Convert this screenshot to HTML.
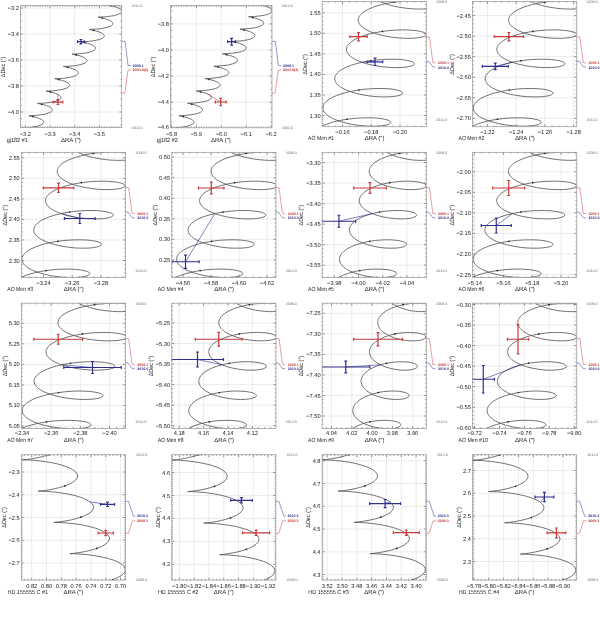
<!DOCTYPE html><html><head><meta charset="utf-8"><style>html,body{margin:0;padding:0;background:#fff;}svg{display:block;will-change:transform;text-rendering:geometricPrecision;}</style></head><body><svg width="600" height="620" viewBox="0 0 600 620" font-family='"Liberation Sans", sans-serif' fill="#222">
<rect width="600" height="620" fill="#fff"/>
<clipPath id="c1"><rect x="20.50" y="5.50" width="101.20" height="122.10"/></clipPath>
<path d="M99.40 5.50V127.60M74.70 5.50V127.60M50.00 5.50V127.60M25.30 5.50V127.60M20.50 112.00H121.70M20.50 86.00H121.70M20.50 60.00H121.70M20.50 34.00H121.70M20.50 8.00H121.70" stroke="#e6e6e6" stroke-width="0.75" fill="none"/>
<path d="M121.63 127.60v-1.20M121.63 5.50v1.20M119.16 127.60v-1.20M119.16 5.50v1.20M116.69 127.60v-1.20M116.69 5.50v1.20M114.22 127.60v-1.20M114.22 5.50v1.20M111.75 127.60v-1.20M111.75 5.50v1.20M109.28 127.60v-1.20M109.28 5.50v1.20M106.81 127.60v-1.20M106.81 5.50v1.20M104.34 127.60v-1.20M104.34 5.50v1.20M101.87 127.60v-1.20M101.87 5.50v1.20M99.40 127.60v-2.40M99.40 5.50v2.40M96.93 127.60v-1.20M96.93 5.50v1.20M94.46 127.60v-1.20M94.46 5.50v1.20M91.99 127.60v-1.20M91.99 5.50v1.20M89.52 127.60v-1.20M89.52 5.50v1.20M87.05 127.60v-1.20M87.05 5.50v1.20M84.58 127.60v-1.20M84.58 5.50v1.20M82.11 127.60v-1.20M82.11 5.50v1.20M79.64 127.60v-1.20M79.64 5.50v1.20M77.17 127.60v-1.20M77.17 5.50v1.20M74.70 127.60v-2.40M74.70 5.50v2.40M72.23 127.60v-1.20M72.23 5.50v1.20M69.76 127.60v-1.20M69.76 5.50v1.20M67.29 127.60v-1.20M67.29 5.50v1.20M64.82 127.60v-1.20M64.82 5.50v1.20M62.35 127.60v-1.20M62.35 5.50v1.20M59.88 127.60v-1.20M59.88 5.50v1.20M57.41 127.60v-1.20M57.41 5.50v1.20M54.94 127.60v-1.20M54.94 5.50v1.20M52.47 127.60v-1.20M52.47 5.50v1.20M50.00 127.60v-2.40M50.00 5.50v2.40M47.53 127.60v-1.20M47.53 5.50v1.20M45.06 127.60v-1.20M45.06 5.50v1.20M42.59 127.60v-1.20M42.59 5.50v1.20M40.12 127.60v-1.20M40.12 5.50v1.20M37.65 127.60v-1.20M37.65 5.50v1.20M35.18 127.60v-1.20M35.18 5.50v1.20M32.71 127.60v-1.20M32.71 5.50v1.20M30.24 127.60v-1.20M30.24 5.50v1.20M27.77 127.60v-1.20M27.77 5.50v1.20M25.30 127.60v-2.40M25.30 5.50v2.40M22.83 127.60v-1.20M22.83 5.50v1.20M20.50 125.00h1.20M121.70 125.00h-1.20M20.50 118.50h1.20M121.70 118.50h-1.20M20.50 112.00h2.40M121.70 112.00h-2.40M20.50 105.50h1.20M121.70 105.50h-1.20M20.50 99.00h1.20M121.70 99.00h-1.20M20.50 92.50h1.20M121.70 92.50h-1.20M20.50 86.00h2.40M121.70 86.00h-2.40M20.50 79.50h1.20M121.70 79.50h-1.20M20.50 73.00h1.20M121.70 73.00h-1.20M20.50 66.50h1.20M121.70 66.50h-1.20M20.50 60.00h2.40M121.70 60.00h-2.40M20.50 53.50h1.20M121.70 53.50h-1.20M20.50 47.00h1.20M121.70 47.00h-1.20M20.50 40.50h1.20M121.70 40.50h-1.20M20.50 34.00h2.40M121.70 34.00h-2.40M20.50 27.50h1.20M121.70 27.50h-1.20M20.50 21.00h1.20M121.70 21.00h-1.20M20.50 14.50h1.20M121.70 14.50h-1.20M20.50 8.00h2.40M121.70 8.00h-2.40" stroke="#555" stroke-width="0.65" fill="none"/>
<g clip-path="url(#c1)">
<path d="M30.0 130.5L25.9 129.3L20.2 128.0L25.6 127.8L29.9 127.5L33.9 126.9L37.4 126.2L40.2 125.3L42.2 124.3L43.0 123.7L43.4 123.2L43.7 122.7L43.8 122.1L43.5 121.2L42.7 120.4L41.4 119.5L39.7 118.6L37.5 117.8L35.1 117.1L28.9 115.7L34.1 115.5L37.9 115.2L41.8 114.7L45.2 114.1L48.1 113.2L50.3 112.3L51.2 111.8L51.7 111.3L52.1 110.8L52.4 110.3L52.4 109.9L52.3 109.3L51.7 108.4L50.5 107.4L48.8 106.5L46.7 105.6L44.0 104.8L41.5 104.2L37.5 103.4L42.6 103.2L46.4 102.9L50.1 102.4L53.4 101.8L56.2 101.1L58.5 100.2L59.5 99.7L60.1 99.2L60.6 98.7L60.9 98.2L61.0 97.8L61.0 97.2L60.9 96.8L60.5 96.3L59.4 95.3L57.7 94.3L55.6 93.4L53.0 92.6L50.3 91.9L46.2 91.1L51.3 90.9L55.1 90.6L58.8 90.1L62.1 89.5L64.9 88.7L67.2 87.9L68.7 86.9L69.2 86.4L69.5 85.9L69.7 85.5L69.7 85.0L69.5 84.5L69.2 84.0L68.1 83.0L66.4 82.0L64.2 81.1L61.6 80.3L58.9 79.6L54.8 78.7L59.8 78.5L63.6 78.3L67.3 77.8L70.6 77.2L73.4 76.5L75.7 75.6L77.3 74.7L77.8 74.2L78.2 73.7L78.3 73.2L78.3 72.7L78.2 72.3L77.9 71.8L76.8 70.7L75.2 69.8L73.0 68.8L70.4 68.0L67.6 67.3L63.4 66.4L68.5 66.2L72.0 66.0L75.7 65.5L79.1 64.9L81.9 64.2L84.3 63.3L85.9 62.4L86.4 61.9L86.8 61.4L86.9 61.0L87.0 60.5L86.8 59.9L86.5 59.4L85.4 58.4L83.8 57.4L81.6 56.5L79.0 55.6L76.2 54.9L72.1 54.1L77.2 53.9L80.8 53.6L84.4 53.2L87.8 52.6L90.6 51.9L92.8 51.0L94.4 50.1L95.0 49.7L95.4 49.2L95.6 48.7L95.6 48.2L95.5 47.7L95.2 47.1L94.2 46.1L92.6 45.1L90.4 44.2L87.7 43.3L84.8 42.6L80.7 41.8L85.9 41.6L89.5 41.3L93.1 40.8L96.5 40.2L99.3 39.5L101.5 38.7L103.1 37.8L103.6 37.3L104.0 36.8L104.2 36.4L104.3 35.9L104.2 35.3L103.9 34.8L102.8 33.8L101.2 32.8L99.0 31.9L96.3 31.0L93.6 30.3L89.4 29.5L94.4 29.2L97.9 29.0L101.6 28.5L105.0 27.9L107.8 27.2L110.0 26.4L111.7 25.5L112.2 25.0L112.6 24.5L112.8 24.1L112.9 23.6L112.8 23.1L112.5 22.5L111.5 21.5L109.9 20.5L107.7 19.6L105.1 18.7L102.2 18.0L98.0 17.1L103.1 16.9L106.7 16.7L110.3 16.2L113.7 15.6L116.5 14.9L118.7 14.1L120.3 13.2L120.9 12.7L121.3 12.2L121.5 11.8L121.6 11.2L121.5 10.7L121.2 10.2L120.1 9.2L118.5 8.2L116.3 7.2L113.7 6.4L110.9 5.7L106.7 4.8L111.8 4.6L115.6 4.3L119.5 3.8L122.9 3.2" stroke="#585858" stroke-width="0.85" fill="none"/>
<circle cx="24.40" cy="128.90" r="0.85" fill="#222"/>
<circle cx="33.04" cy="116.58" r="0.85" fill="#222"/>
<circle cx="41.69" cy="104.25" r="0.85" fill="#222"/>
<circle cx="50.33" cy="91.93" r="0.85" fill="#222"/>
<circle cx="58.98" cy="79.60" r="0.85" fill="#222"/>
<circle cx="67.62" cy="67.28" r="0.85" fill="#222"/>
<circle cx="76.26" cy="54.96" r="0.85" fill="#222"/>
<circle cx="84.91" cy="42.63" r="0.85" fill="#222"/>
<circle cx="93.55" cy="30.31" r="0.85" fill="#222"/>
<circle cx="102.20" cy="17.98" r="0.85" fill="#222"/>
<circle cx="110.84" cy="5.66" r="0.85" fill="#222"/>
<path d="M57.75 94.32L57.90 102.10" stroke="#c83838" stroke-width="0.6" fill="none"/>
<path d="M53.00 102.10H62.80M57.90 99.70V104.50M53.00 100.70v2.80M62.80 100.70v2.80M56.50 99.70h2.80M56.50 104.50h2.80" stroke="#c83838" stroke-width="1.20" fill="none"/>
<path d="M77.50 41.70H84.30M80.90 39.50V43.90M77.50 40.30v2.80M84.30 40.30v2.80M79.50 39.50h2.80M79.50 43.90h2.80" stroke="#2e2e8e" stroke-width="1.20" fill="none"/>
</g>
<rect x="20.50" y="5.50" width="101.20" height="122.10" stroke="#a0a0a0" stroke-width="0.80" fill="none"/>
<text x="99.40" y="135.75" font-size="5.70" text-anchor="middle"><tspan font-weight="bold">−</tspan>3.5</text>
<text x="74.70" y="135.75" font-size="5.70" text-anchor="middle"><tspan font-weight="bold">−</tspan>3.4</text>
<text x="50.00" y="135.75" font-size="5.70" text-anchor="middle"><tspan font-weight="bold">−</tspan>3.3</text>
<text x="25.30" y="135.75" font-size="5.70" text-anchor="middle"><tspan font-weight="bold">−</tspan>3.2</text>
<text x="18.90" y="114.05" font-size="5.70" text-anchor="end"><tspan font-weight="bold">−</tspan>4.0</text>
<text x="18.90" y="88.05" font-size="5.70" text-anchor="end"><tspan font-weight="bold">−</tspan>3.8</text>
<text x="18.90" y="62.05" font-size="5.70" text-anchor="end"><tspan font-weight="bold">−</tspan>3.6</text>
<text x="18.90" y="36.05" font-size="5.70" text-anchor="end"><tspan font-weight="bold">−</tspan>3.4</text>
<text x="18.90" y="10.05" font-size="5.70" text-anchor="end"><tspan font-weight="bold">−</tspan>3.2</text>
<text x="70.90" y="141.50" font-size="6.0" text-anchor="middle">ΔRA (″)</text>
<text x="5.00" y="67.00" font-size="6.0" text-anchor="middle" textLength="20.5" lengthAdjust="spacingAndGlyphs" transform="rotate(-90 5.00 67.00)">ΔDec (″)</text>
<text x="6.75" y="141.50" font-size="6.0" textLength="21.0" lengthAdjust="spacingAndGlyphs">gj182 #1</text>
<text x="131.50" y="6.80" font-size="3.60" fill="#6a6a6a">2012.0</text>
<text x="131.50" y="129.20" font-size="3.60" fill="#6a6a6a">2002.0</text>
<text x="132.70" y="66.90" font-size="3.60" fill="#2e2e8e" font-weight="bold">2009.1</text>
<text x="132.70" y="71.40" font-size="3.60" fill="#c83838" font-weight="bold">2004.8(2)</text>
<path d="M121.70 41.30L125.10 41.40L128.00 65.40L131.10 65.60" stroke="#6262b4" stroke-width="0.65" fill="none"/>
<path d="M121.70 93.20L124.80 93.20L128.00 70.20L131.10 70.00" stroke="#dc6a6a" stroke-width="0.65" fill="none"/>
<clipPath id="c2"><rect x="170.50" y="5.50" width="101.50" height="122.30"/></clipPath>
<path d="M271.10 5.50V127.80M246.20 5.50V127.80M221.30 5.50V127.80M196.40 5.50V127.80M171.50 5.50V127.80M170.50 102.20H272.00M170.50 76.10H272.00M170.50 50.00H272.00M170.50 23.90H272.00" stroke="#e6e6e6" stroke-width="0.75" fill="none"/>
<path d="M271.10 127.80v-2.40M271.10 5.50v2.40M268.61 127.80v-1.20M268.61 5.50v1.20M266.12 127.80v-1.20M266.12 5.50v1.20M263.63 127.80v-1.20M263.63 5.50v1.20M261.14 127.80v-1.20M261.14 5.50v1.20M258.65 127.80v-1.20M258.65 5.50v1.20M256.16 127.80v-1.20M256.16 5.50v1.20M253.67 127.80v-1.20M253.67 5.50v1.20M251.18 127.80v-1.20M251.18 5.50v1.20M248.69 127.80v-1.20M248.69 5.50v1.20M246.20 127.80v-2.40M246.20 5.50v2.40M243.71 127.80v-1.20M243.71 5.50v1.20M241.22 127.80v-1.20M241.22 5.50v1.20M238.73 127.80v-1.20M238.73 5.50v1.20M236.24 127.80v-1.20M236.24 5.50v1.20M233.75 127.80v-1.20M233.75 5.50v1.20M231.26 127.80v-1.20M231.26 5.50v1.20M228.77 127.80v-1.20M228.77 5.50v1.20M226.28 127.80v-1.20M226.28 5.50v1.20M223.79 127.80v-1.20M223.79 5.50v1.20M221.30 127.80v-2.40M221.30 5.50v2.40M218.81 127.80v-1.20M218.81 5.50v1.20M216.32 127.80v-1.20M216.32 5.50v1.20M213.83 127.80v-1.20M213.83 5.50v1.20M211.34 127.80v-1.20M211.34 5.50v1.20M208.85 127.80v-1.20M208.85 5.50v1.20M206.36 127.80v-1.20M206.36 5.50v1.20M203.87 127.80v-1.20M203.87 5.50v1.20M201.38 127.80v-1.20M201.38 5.50v1.20M198.89 127.80v-1.20M198.89 5.50v1.20M196.40 127.80v-2.40M196.40 5.50v2.40M193.91 127.80v-1.20M193.91 5.50v1.20M191.42 127.80v-1.20M191.42 5.50v1.20M188.93 127.80v-1.20M188.93 5.50v1.20M186.44 127.80v-1.20M186.44 5.50v1.20M183.95 127.80v-1.20M183.95 5.50v1.20M181.46 127.80v-1.20M181.46 5.50v1.20M178.97 127.80v-1.20M178.97 5.50v1.20M176.48 127.80v-1.20M176.48 5.50v1.20M173.99 127.80v-1.20M173.99 5.50v1.20M171.50 127.80v-2.40M171.50 5.50v2.40M170.50 121.77h1.20M272.00 121.77h-1.20M170.50 115.25h1.20M272.00 115.25h-1.20M170.50 108.72h1.20M272.00 108.72h-1.20M170.50 102.20h2.40M272.00 102.20h-2.40M170.50 95.68h1.20M272.00 95.68h-1.20M170.50 89.15h1.20M272.00 89.15h-1.20M170.50 82.62h1.20M272.00 82.62h-1.20M170.50 76.10h2.40M272.00 76.10h-2.40M170.50 69.58h1.20M272.00 69.58h-1.20M170.50 63.05h1.20M272.00 63.05h-1.20M170.50 56.52h1.20M272.00 56.52h-1.20M170.50 50.00h2.40M272.00 50.00h-2.40M170.50 43.48h1.20M272.00 43.48h-1.20M170.50 36.95h1.20M272.00 36.95h-1.20M170.50 30.43h1.20M272.00 30.43h-1.20M170.50 23.90h2.40M272.00 23.90h-2.40M170.50 17.38h1.20M272.00 17.38h-1.20M170.50 10.85h1.20M272.00 10.85h-1.20" stroke="#555" stroke-width="0.65" fill="none"/>
<g clip-path="url(#c2)">
<path d="M180.6 130.7L178.6 130.0L176.3 129.4L170.2 128.0L175.6 127.8L180.0 127.4L183.9 126.9L187.5 126.2L190.3 125.3L192.4 124.3L193.1 123.7L193.6 123.1L193.9 122.6L193.9 122.0L193.6 121.1L192.7 120.3L191.4 119.3L189.6 118.5L187.6 117.8L185.1 117.0L178.9 115.7L184.2 115.5L188.0 115.1L192.0 114.6L195.4 114.0L198.3 113.2L200.5 112.3L201.4 111.7L201.9 111.2L202.4 110.7L202.6 110.2L202.6 109.8L202.5 109.3L201.9 108.3L200.7 107.4L199.0 106.4L196.8 105.6L194.2 104.7L191.6 104.1L187.6 103.3L192.7 103.1L196.6 102.8L200.3 102.3L203.7 101.7L206.5 101.0L208.8 100.1L209.8 99.6L210.4 99.1L210.9 98.6L211.2 98.1L211.3 97.6L211.3 97.1L211.2 96.7L210.8 96.2L209.7 95.1L208.0 94.2L205.9 93.3L203.2 92.5L200.5 91.8L196.3 90.9L201.5 90.7L205.4 90.4L209.1 90.0L212.4 89.3L215.3 88.6L217.6 87.7L219.1 86.8L219.6 86.3L219.9 85.8L220.0 85.3L220.0 84.8L219.9 84.4L219.6 83.8L218.5 82.8L216.8 81.8L214.5 80.9L211.9 80.1L209.1 79.4L205.0 78.6L210.1 78.4L213.9 78.1L217.6 77.6L221.0 77.0L223.8 76.3L226.2 75.4L227.7 74.5L228.2 74.0L228.6 73.5L228.7 73.0L228.8 72.5L228.6 72.1L228.3 71.5L227.3 70.5L225.6 69.5L223.4 68.6L220.7 67.7L218.0 67.0L213.8 66.2L218.8 66.0L222.4 65.7L226.1 65.3L229.5 64.7L232.4 63.9L234.8 63.1L236.3 62.2L236.9 61.7L237.3 61.2L237.4 60.7L237.5 60.2L237.4 59.7L237.0 59.1L235.9 58.1L234.3 57.1L232.1 56.2L229.4 55.4L226.6 54.7L222.5 53.8L227.6 53.6L231.2 53.3L234.9 52.9L238.3 52.3L241.2 51.6L243.4 50.8L245.0 49.8L245.6 49.4L245.9 48.8L246.1 48.4L246.2 47.9L246.1 47.4L245.8 46.8L244.7 45.8L243.1 44.8L240.9 43.9L238.3 43.0L235.3 42.3L231.2 41.4L236.4 41.2L240.0 41.0L243.7 40.5L247.1 39.9L249.9 39.2L252.1 38.4L253.7 37.4L254.3 37.0L254.7 36.4L254.9 36.0L254.9 35.5L254.8 35.0L254.5 34.4L253.4 33.4L251.8 32.4L249.6 31.5L246.9 30.6L244.1 29.9L239.9 29.1L244.9 28.9L248.5 28.6L252.2 28.2L255.6 27.6L258.5 26.8L260.7 26.0L262.4 25.1L262.9 24.6L263.4 24.1L263.6 23.7L263.6 23.2L263.5 22.7L263.3 22.1L262.2 21.1L260.6 20.1L258.4 19.2L255.8 18.3L252.8 17.6L248.6 16.7L253.7 16.5L257.3 16.2L261.0 15.8L264.4 15.2L267.3 14.5L269.5 13.6L271.1 12.7L271.7 12.3L272.1 11.7L272.3 11.3L272.3 10.8L272.2 10.3L272.0 9.7L270.9 8.7L269.3 7.7L267.1 6.8L264.4 5.9L261.6 5.2L257.3 4.3L262.5 4.1L266.3 3.8L270.3 3.3L273.7 2.7" stroke="#585858" stroke-width="0.85" fill="none"/>
<circle cx="174.40" cy="128.90" r="0.85" fill="#222"/>
<circle cx="183.11" cy="116.53" r="0.85" fill="#222"/>
<circle cx="191.83" cy="104.16" r="0.85" fill="#222"/>
<circle cx="200.54" cy="91.79" r="0.85" fill="#222"/>
<circle cx="209.26" cy="79.41" r="0.85" fill="#222"/>
<circle cx="217.97" cy="67.04" r="0.85" fill="#222"/>
<circle cx="226.68" cy="54.67" r="0.85" fill="#222"/>
<circle cx="235.40" cy="42.30" r="0.85" fill="#222"/>
<circle cx="244.11" cy="29.93" r="0.85" fill="#222"/>
<circle cx="252.83" cy="17.56" r="0.85" fill="#222"/>
<circle cx="261.54" cy="5.19" r="0.85" fill="#222"/>
<path d="M208.02 94.19L220.75 102.00" stroke="#c83838" stroke-width="0.6" fill="none"/>
<path d="M215.35 102.00H226.15M220.75 98.25V105.75M215.35 100.60v2.80M226.15 100.60v2.80M219.35 98.25h2.80M219.35 105.75h2.80" stroke="#c83838" stroke-width="1.20" fill="none"/>
<path d="M227.60 41.70H235.60M231.60 38.30V45.10M227.60 40.30v2.80M235.60 40.30v2.80M230.20 38.30h2.80M230.20 45.10h2.80" stroke="#2e2e8e" stroke-width="1.20" fill="none"/>
</g>
<rect x="170.50" y="5.50" width="101.50" height="122.30" stroke="#a0a0a0" stroke-width="0.80" fill="none"/>
<text x="271.10" y="135.75" font-size="5.70" text-anchor="middle"><tspan font-weight="bold">−</tspan>6.2</text>
<text x="246.20" y="135.75" font-size="5.70" text-anchor="middle"><tspan font-weight="bold">−</tspan>6.1</text>
<text x="221.30" y="135.75" font-size="5.70" text-anchor="middle"><tspan font-weight="bold">−</tspan>6.0</text>
<text x="196.40" y="135.75" font-size="5.70" text-anchor="middle"><tspan font-weight="bold">−</tspan>5.9</text>
<text x="171.50" y="135.75" font-size="5.70" text-anchor="middle"><tspan font-weight="bold">−</tspan>5.8</text>
<text x="168.90" y="128.65" font-size="5.70" text-anchor="end"><tspan font-weight="bold">−</tspan>4.6</text>
<text x="168.90" y="104.25" font-size="5.70" text-anchor="end"><tspan font-weight="bold">−</tspan>4.4</text>
<text x="168.90" y="78.15" font-size="5.70" text-anchor="end"><tspan font-weight="bold">−</tspan>4.2</text>
<text x="168.90" y="52.05" font-size="5.70" text-anchor="end"><tspan font-weight="bold">−</tspan>4.0</text>
<text x="168.90" y="25.95" font-size="5.70" text-anchor="end"><tspan font-weight="bold">−</tspan>3.8</text>
<text x="220.90" y="141.50" font-size="6.0" text-anchor="middle">ΔRA (″)</text>
<text x="155.00" y="67.00" font-size="6.0" text-anchor="middle" textLength="20.5" lengthAdjust="spacingAndGlyphs" transform="rotate(-90 155.00 67.00)">ΔDec (″)</text>
<text x="156.75" y="141.50" font-size="6.0" textLength="21.0" lengthAdjust="spacingAndGlyphs">gj182 #2</text>
<text x="281.80" y="6.80" font-size="3.60" fill="#6a6a6a">2012.0</text>
<text x="281.80" y="129.20" font-size="3.60" fill="#6a6a6a">2002.0</text>
<text x="283.00" y="66.90" font-size="3.60" fill="#2e2e8e" font-weight="bold">2009.1</text>
<text x="283.00" y="71.40" font-size="3.60" fill="#c83838" font-weight="bold">2004.8(2)</text>
<path d="M272.00 41.30L275.40 41.40L278.30 65.40L281.40 65.60" stroke="#6262b4" stroke-width="0.65" fill="none"/>
<path d="M272.00 93.20L275.10 93.20L278.30 70.20L281.40 70.00" stroke="#dc6a6a" stroke-width="0.65" fill="none"/>
<clipPath id="c3"><rect x="322.15" y="1.50" width="104.20" height="125.20"/></clipPath>
<path d="M400.00 1.50V126.70M371.25 1.50V126.70M342.50 1.50V126.70M322.15 115.50H426.35M322.15 94.96H426.35M322.15 74.42H426.35M322.15 53.88H426.35M322.15 33.34H426.35M322.15 12.80H426.35" stroke="#e6e6e6" stroke-width="0.75" fill="none"/>
<path d="M421.56 126.70v-1.20M421.56 1.50v1.20M414.38 126.70v-1.20M414.38 1.50v1.20M407.19 126.70v-1.20M407.19 1.50v1.20M400.00 126.70v-2.40M400.00 1.50v2.40M392.81 126.70v-1.20M392.81 1.50v1.20M385.62 126.70v-1.20M385.62 1.50v1.20M378.44 126.70v-1.20M378.44 1.50v1.20M371.25 126.70v-2.40M371.25 1.50v2.40M364.06 126.70v-1.20M364.06 1.50v1.20M356.88 126.70v-1.20M356.88 1.50v1.20M349.69 126.70v-1.20M349.69 1.50v1.20M342.50 126.70v-2.40M342.50 1.50v2.40M335.31 126.70v-1.20M335.31 1.50v1.20M328.12 126.70v-1.20M328.12 1.50v1.20M322.15 123.72h1.20M426.35 123.72h-1.20M322.15 119.61h1.20M426.35 119.61h-1.20M322.15 115.50h2.40M426.35 115.50h-2.40M322.15 111.39h1.20M426.35 111.39h-1.20M322.15 107.28h1.20M426.35 107.28h-1.20M322.15 103.18h1.20M426.35 103.18h-1.20M322.15 99.07h1.20M426.35 99.07h-1.20M322.15 94.96h2.40M426.35 94.96h-2.40M322.15 90.85h1.20M426.35 90.85h-1.20M322.15 86.74h1.20M426.35 86.74h-1.20M322.15 82.64h1.20M426.35 82.64h-1.20M322.15 78.53h1.20M426.35 78.53h-1.20M322.15 74.42h2.40M426.35 74.42h-2.40M322.15 70.31h1.20M426.35 70.31h-1.20M322.15 66.20h1.20M426.35 66.20h-1.20M322.15 62.10h1.20M426.35 62.10h-1.20M322.15 57.99h1.20M426.35 57.99h-1.20M322.15 53.88h2.40M426.35 53.88h-2.40M322.15 49.77h1.20M426.35 49.77h-1.20M322.15 45.66h1.20M426.35 45.66h-1.20M322.15 41.56h1.20M426.35 41.56h-1.20M322.15 37.45h1.20M426.35 37.45h-1.20M322.15 33.34h2.40M426.35 33.34h-2.40M322.15 29.23h1.20M426.35 29.23h-1.20M322.15 25.12h1.20M426.35 25.12h-1.20M322.15 21.02h1.20M426.35 21.02h-1.20M322.15 16.91h1.20M426.35 16.91h-1.20M322.15 12.80h2.40M426.35 12.80h-2.40M322.15 8.69h1.20M426.35 8.69h-1.20M322.15 4.58h1.20M426.35 4.58h-1.20" stroke="#555" stroke-width="0.65" fill="none"/>
<g clip-path="url(#c3)">
<path d="M375.1 -1.4L377.2 -0.1L379.5 1.2L382.1 2.4L385.0 3.5L388.1 4.5L391.3 5.5L394.7 6.3L398.6 7.1L402.5 7.7L406.5 8.3L410.4 8.7L414.7 8.9L418.7 9.1L422.5 9.0L426.0 8.9L429.2 8.6M429.2 1.5L424.2 1.0L418.8 0.7L412.7 0.6L406.2 0.9L399.9 1.4L393.5 2.2L387.7 3.2L382.2 4.5L377.0 5.9L372.6 7.4L368.4 9.3L365.0 11.1L363.4 12.2L362.1 13.2L361.1 14.2L360.2 15.2L359.4 16.2L358.9 17.3L358.5 18.3L358.3 19.4L358.2 20.4L358.4 21.7L358.8 22.7L359.4 23.9L360.1 24.9L361.2 26.0L362.2 27.0L363.6 28.1L366.8 30.0L370.8 31.9L375.4 33.6L380.9 35.1L387.0 36.4L393.3 37.4L399.6 38.0L406.0 38.3L412.2 38.3L417.5 37.8L419.8 37.5L421.9 37.0L423.7 36.5L425.0 35.9L425.5 35.6L426.0 35.1L426.2 34.7L426.2 34.3L426.0 33.9L425.7 33.5L424.5 32.7L422.7 32.0L420.4 31.4L417.3 30.8L413.9 30.4L410.1 30.1L406.4 29.9L402.3 29.9L398.1 30.0L393.7 30.2L389.7 30.5L381.5 31.5L374.4 32.8L368.1 34.3L362.4 36.1L359.6 37.2L357.3 38.2L355.0 39.4L353.1 40.5L351.3 41.8L349.9 42.9L348.7 44.1L347.8 45.3L347.1 46.5L346.6 47.9L346.5 48.9L346.5 50.2L346.8 51.4L347.3 52.6L347.9 53.6L348.8 54.8L350.0 55.9L351.3 57.0L352.9 58.1L354.6 59.1L358.6 61.0L363.2 62.7L368.5 64.3L374.7 65.6L381.4 66.7L388.1 67.3L394.8 67.6L401.2 67.5L404.2 67.3L406.9 67.0L409.2 66.5L411.2 66.0L412.7 65.5L413.8 64.8L414.2 64.4L414.4 64.0L414.4 63.6L414.3 63.2L414.0 62.8L413.5 62.4L412.1 61.7L410.2 61.1L407.7 60.5L404.7 60.0L401.3 59.6L397.8 59.3L394.0 59.2L386.1 59.3L378.1 59.8L369.9 60.8L362.8 62.1L356.5 63.6L350.7 65.4L346.0 67.3L343.6 68.5L341.7 69.5L340.0 70.6L338.6 71.8L337.3 73.0L336.3 74.2L335.5 75.4L335.0 76.8L334.7 77.8L334.7 79.0L334.9 80.3L335.3 81.5L336.0 82.6L336.8 83.8L337.9 85.0L339.3 86.1L340.8 87.1L342.5 88.2L346.4 90.1L351.2 91.9L356.6 93.5L363.1 94.9L369.8 96.0L376.9 96.7L383.6 96.9L389.9 96.8L392.9 96.5L395.5 96.2L397.8 95.8L399.8 95.2L401.2 94.6L402.2 93.9L402.5 93.6L402.6 93.2L402.6 92.8L402.4 92.4L402.1 92.0L401.5 91.6L400.1 90.9L398.1 90.3L395.5 89.7L392.5 89.2L389.0 88.8L382.0 88.5L374.0 88.6L366.0 89.1L357.9 90.1L351.2 91.3L344.9 92.8L339.1 94.6L336.3 95.7L334.0 96.7L331.6 97.8L329.8 98.9L328.1 100.0L326.7 101.2L325.4 102.3L324.5 103.5L323.7 104.7L323.2 106.0L322.9 107.0L322.9 108.2L323.1 109.5L323.5 110.7L324.1 111.9L325.0 113.0L326.1 114.2L327.4 115.3L328.9 116.4L330.6 117.4L332.4 118.4L334.8 119.5L339.6 121.3L345.0 122.8L351.5 124.3L358.3 125.3L365.3 126.0L372.0 126.2L375.4 126.2L378.6 126.0L381.5 125.8L384.1 125.4L386.3 125.0L388.3 124.4L389.6 123.8L390.5 123.1L390.8 122.5L390.8 121.9L390.3 121.3L389.5 120.8L388.2 120.2L386.6 119.7L382.6 118.8L377.7 118.2L371.9 117.8L365.9 117.8L359.4 118.0L353.5 118.5L347.6 119.2L341.8 120.1L336.6 121.2L331.7 122.5L327.1 124.0L323.0 125.6L319.4 127.4" stroke="#585858" stroke-width="0.85" fill="none"/>
<circle cx="394.23" cy="2.11" r="0.85" fill="#222"/>
<circle cx="382.44" cy="31.40" r="0.85" fill="#222"/>
<circle cx="370.65" cy="60.69" r="0.85" fill="#222"/>
<circle cx="358.86" cy="89.98" r="0.85" fill="#222"/>
<circle cx="347.07" cy="119.27" r="0.85" fill="#222"/>
<path d="M362.18 62.20L375.00 61.80" stroke="#2e2e8e" stroke-width="0.6" fill="none"/>
<path d="M349.80 36.70H367.20M358.50 32.60V40.80M349.80 35.30v2.80M367.20 35.30v2.80M357.10 32.60h2.80M357.10 40.80h2.80" stroke="#c83838" stroke-width="1.20" fill="none"/>
<path d="M367.20 61.80H382.80M375.00 58.10V65.50M367.20 60.40v2.80M382.80 60.40v2.80M373.60 58.10h2.80M373.60 65.50h2.80" stroke="#2e2e8e" stroke-width="1.20" fill="none"/>
</g>
<rect x="322.15" y="1.50" width="104.20" height="125.20" stroke="#a0a0a0" stroke-width="0.80" fill="none"/>
<text x="400.00" y="133.70" font-size="5.70" text-anchor="middle"><tspan font-weight="bold">−</tspan>0.20</text>
<text x="371.25" y="133.70" font-size="5.70" text-anchor="middle"><tspan font-weight="bold">−</tspan>0.18</text>
<text x="342.50" y="133.70" font-size="5.70" text-anchor="middle"><tspan font-weight="bold">−</tspan>0.16</text>
<text x="320.55" y="117.55" font-size="5.70" text-anchor="end">1.30</text>
<text x="320.55" y="97.01" font-size="5.70" text-anchor="end">1.35</text>
<text x="320.55" y="76.47" font-size="5.70" text-anchor="end">1.40</text>
<text x="320.55" y="55.93" font-size="5.70" text-anchor="end">1.45</text>
<text x="320.55" y="35.39" font-size="5.70" text-anchor="end">1.50</text>
<text x="320.55" y="14.85" font-size="5.70" text-anchor="end">1.55</text>
<text x="374.55" y="140.10" font-size="6.0" text-anchor="middle">ΔRA (″)</text>
<text x="307.45" y="64.40" font-size="6.0" text-anchor="middle" textLength="20.5" lengthAdjust="spacingAndGlyphs" transform="rotate(-90 307.45 64.40)">ΔDec (″)</text>
<text x="308.10" y="140.10" font-size="6.0" textLength="25.8" lengthAdjust="spacingAndGlyphs">AO Men #1</text>
<text x="436.20" y="3.00" font-size="3.60" fill="#6a6a6a">2008.0</text>
<text x="436.20" y="121.10" font-size="3.60" fill="#6a6a6a">2012.0</text>
<text x="438.05" y="64.20" font-size="3.60" fill="#c83838" font-weight="bold">2009.1</text>
<text x="438.05" y="68.60" font-size="3.60" fill="#2e2e8e" font-weight="bold">2010.0</text>
<path d="M426.35 36.90L429.45 36.90L432.85 62.50L435.65 62.90" stroke="#dc6a6a" stroke-width="0.65" fill="none"/>
<path d="M426.35 61.30L428.85 61.30L432.85 66.90L435.65 67.10" stroke="#6262b4" stroke-width="0.65" fill="none"/>
<clipPath id="c4"><rect x="472.55" y="1.50" width="104.20" height="125.20"/></clipPath>
<path d="M573.65 1.50V126.70M544.90 1.50V126.70M516.15 1.50V126.70M487.40 1.50V126.70M472.55 118.30H576.75M472.55 97.76H576.75M472.55 77.22H576.75M472.55 56.68H576.75M472.55 36.14H576.75M472.55 15.60H576.75" stroke="#e6e6e6" stroke-width="0.75" fill="none"/>
<path d="M573.65 126.70v-2.40M573.65 1.50v2.40M566.46 126.70v-1.20M566.46 1.50v1.20M559.27 126.70v-1.20M559.27 1.50v1.20M552.09 126.70v-1.20M552.09 1.50v1.20M544.90 126.70v-2.40M544.90 1.50v2.40M537.71 126.70v-1.20M537.71 1.50v1.20M530.52 126.70v-1.20M530.52 1.50v1.20M523.34 126.70v-1.20M523.34 1.50v1.20M516.15 126.70v-2.40M516.15 1.50v2.40M508.96 126.70v-1.20M508.96 1.50v1.20M501.77 126.70v-1.20M501.77 1.50v1.20M494.59 126.70v-1.20M494.59 1.50v1.20M487.40 126.70v-2.40M487.40 1.50v2.40M480.21 126.70v-1.20M480.21 1.50v1.20M473.02 126.70v-1.20M473.02 1.50v1.20M472.55 126.52h1.20M576.75 126.52h-1.20M472.55 122.41h1.20M576.75 122.41h-1.20M472.55 118.30h2.40M576.75 118.30h-2.40M472.55 114.19h1.20M576.75 114.19h-1.20M472.55 110.08h1.20M576.75 110.08h-1.20M472.55 105.98h1.20M576.75 105.98h-1.20M472.55 101.87h1.20M576.75 101.87h-1.20M472.55 97.76h2.40M576.75 97.76h-2.40M472.55 93.65h1.20M576.75 93.65h-1.20M472.55 89.54h1.20M576.75 89.54h-1.20M472.55 85.44h1.20M576.75 85.44h-1.20M472.55 81.33h1.20M576.75 81.33h-1.20M472.55 77.22h2.40M576.75 77.22h-2.40M472.55 73.11h1.20M576.75 73.11h-1.20M472.55 69.00h1.20M576.75 69.00h-1.20M472.55 64.90h1.20M576.75 64.90h-1.20M472.55 60.79h1.20M576.75 60.79h-1.20M472.55 56.68h2.40M576.75 56.68h-2.40M472.55 52.57h1.20M576.75 52.57h-1.20M472.55 48.46h1.20M576.75 48.46h-1.20M472.55 44.36h1.20M576.75 44.36h-1.20M472.55 40.25h1.20M576.75 40.25h-1.20M472.55 36.14h2.40M576.75 36.14h-2.40M472.55 32.03h1.20M576.75 32.03h-1.20M472.55 27.92h1.20M576.75 27.92h-1.20M472.55 23.82h1.20M576.75 23.82h-1.20M472.55 19.71h1.20M576.75 19.71h-1.20M472.55 15.60h2.40M576.75 15.60h-2.40M472.55 11.49h1.20M576.75 11.49h-1.20M472.55 7.38h1.20M576.75 7.38h-1.20M472.55 3.28h1.20M576.75 3.28h-1.20" stroke="#555" stroke-width="0.65" fill="none"/>
<g clip-path="url(#c4)">
<path d="M525.5 -1.4L527.6 -0.1L529.9 1.2L532.5 2.4L535.4 3.5L538.5 4.5L541.7 5.5L545.1 6.3L549.0 7.1L552.9 7.7L556.9 8.3L560.8 8.7L565.1 8.9L569.1 9.1L572.9 9.0L576.4 8.9L579.6 8.6M579.6 1.5L574.6 1.0L569.2 0.7L563.1 0.6L556.6 0.9L550.3 1.4L543.9 2.2L538.1 3.2L532.6 4.5L527.4 5.9L523.0 7.4L518.8 9.3L515.4 11.1L513.8 12.2L512.5 13.2L511.5 14.2L510.6 15.2L509.8 16.2L509.3 17.3L508.9 18.3L508.7 19.4L508.6 20.4L508.8 21.7L509.2 22.7L509.8 23.9L510.5 24.9L511.6 26.0L512.6 27.0L514.0 28.1L517.2 30.0L521.2 31.9L525.8 33.6L531.3 35.1L537.4 36.4L543.7 37.4L550.0 38.0L556.4 38.3L562.6 38.3L567.9 37.8L570.2 37.5L572.3 37.0L574.1 36.5L575.4 35.9L575.9 35.6L576.4 35.1L576.6 34.7L576.6 34.3L576.4 33.9L576.1 33.5L574.9 32.7L573.1 32.0L570.8 31.4L567.7 30.8L564.3 30.4L560.5 30.1L556.8 29.9L552.7 29.9L548.5 30.0L544.1 30.2L540.1 30.5L531.9 31.5L524.8 32.8L518.5 34.3L512.8 36.1L510.0 37.2L507.7 38.2L505.4 39.4L503.5 40.5L501.7 41.8L500.3 42.9L499.1 44.1L498.2 45.3L497.5 46.5L497.0 47.9L496.9 48.9L496.9 50.2L497.2 51.4L497.7 52.6L498.3 53.6L499.2 54.8L500.4 55.9L501.7 57.0L503.3 58.1L505.0 59.1L509.0 61.0L513.6 62.7L518.9 64.3L525.1 65.6L531.8 66.7L538.5 67.3L545.2 67.6L551.6 67.5L554.6 67.3L557.3 67.0L559.6 66.5L561.6 66.0L563.1 65.5L564.2 64.8L564.6 64.4L564.8 64.0L564.8 63.6L564.7 63.2L564.4 62.8L563.9 62.4L562.5 61.7L560.6 61.1L558.1 60.5L555.1 60.0L551.7 59.6L548.2 59.3L544.4 59.2L536.5 59.3L528.5 59.8L520.3 60.8L513.2 62.1L506.9 63.6L501.1 65.4L496.4 67.3L494.0 68.5L492.1 69.5L490.4 70.6L489.0 71.8L487.7 73.0L486.7 74.2L485.9 75.4L485.4 76.8L485.1 77.8L485.1 79.0L485.3 80.3L485.7 81.5L486.4 82.6L487.2 83.8L488.3 85.0L489.7 86.1L491.2 87.1L492.9 88.2L496.8 90.1L501.6 91.9L507.0 93.5L513.5 94.9L520.2 96.0L527.3 96.7L534.0 96.9L540.3 96.8L543.3 96.5L545.9 96.2L548.2 95.8L550.2 95.2L551.6 94.6L552.6 93.9L552.9 93.6L553.0 93.2L553.0 92.8L552.8 92.4L552.5 92.0L551.9 91.6L550.5 90.9L548.5 90.3L545.9 89.7L542.9 89.2L539.4 88.8L532.4 88.5L524.4 88.6L516.4 89.1L508.3 90.1L501.6 91.3L495.3 92.8L489.5 94.6L486.7 95.7L484.4 96.7L482.0 97.8L480.2 98.9L478.5 100.0L477.1 101.2L475.8 102.3L474.9 103.5L474.1 104.7L473.6 106.0L473.3 107.0L473.3 108.2L473.5 109.5L473.9 110.7L474.5 111.9L475.4 113.0L476.5 114.2L477.8 115.3L479.3 116.4L481.0 117.4L482.8 118.4L485.2 119.5L490.0 121.3L495.4 122.8L501.9 124.3L508.7 125.3L515.7 126.0L522.4 126.2L525.8 126.2L529.0 126.0L531.9 125.8L534.5 125.4L536.7 125.0L538.7 124.4L540.0 123.8L540.9 123.1L541.2 122.5L541.2 121.9L540.7 121.3L539.9 120.8L538.6 120.2L537.0 119.7L533.0 118.8L528.1 118.2L522.3 117.8L516.3 117.8L509.8 118.0L503.9 118.5L498.0 119.2L492.2 120.1L487.0 121.2L482.1 122.5L477.5 124.0L473.4 125.6L469.8 127.4" stroke="#585858" stroke-width="0.85" fill="none"/>
<circle cx="544.63" cy="2.11" r="0.85" fill="#222"/>
<circle cx="532.84" cy="31.40" r="0.85" fill="#222"/>
<circle cx="521.05" cy="60.69" r="0.85" fill="#222"/>
<circle cx="509.26" cy="89.98" r="0.85" fill="#222"/>
<circle cx="497.47" cy="119.27" r="0.85" fill="#222"/>
<path d="M512.58 62.20L495.30 66.40" stroke="#2e2e8e" stroke-width="0.6" fill="none"/>
<path d="M494.20 36.70H523.60M508.90 32.60V40.80M494.20 35.30v2.80M523.60 35.30v2.80M507.50 32.60h2.80M507.50 40.80h2.80" stroke="#c83838" stroke-width="1.20" fill="none"/>
<path d="M482.30 66.40H508.30M495.30 63.20V69.60M482.30 65.00v2.80M508.30 65.00v2.80M493.90 63.20h2.80M493.90 69.60h2.80" stroke="#2e2e8e" stroke-width="1.20" fill="none"/>
</g>
<rect x="472.55" y="1.50" width="104.20" height="125.20" stroke="#a0a0a0" stroke-width="0.80" fill="none"/>
<text x="573.65" y="133.70" font-size="5.70" text-anchor="middle"><tspan font-weight="bold">−</tspan>1.28</text>
<text x="544.90" y="133.70" font-size="5.70" text-anchor="middle"><tspan font-weight="bold">−</tspan>1.26</text>
<text x="516.15" y="133.70" font-size="5.70" text-anchor="middle"><tspan font-weight="bold">−</tspan>1.24</text>
<text x="487.40" y="133.70" font-size="5.70" text-anchor="middle"><tspan font-weight="bold">−</tspan>1.22</text>
<text x="470.95" y="120.35" font-size="5.70" text-anchor="end"><tspan font-weight="bold">−</tspan>2.70</text>
<text x="470.95" y="99.81" font-size="5.70" text-anchor="end"><tspan font-weight="bold">−</tspan>2.65</text>
<text x="470.95" y="79.27" font-size="5.70" text-anchor="end"><tspan font-weight="bold">−</tspan>2.60</text>
<text x="470.95" y="58.73" font-size="5.70" text-anchor="end"><tspan font-weight="bold">−</tspan>2.55</text>
<text x="470.95" y="38.19" font-size="5.70" text-anchor="end"><tspan font-weight="bold">−</tspan>2.50</text>
<text x="470.95" y="17.65" font-size="5.70" text-anchor="end"><tspan font-weight="bold">−</tspan>2.45</text>
<text x="524.95" y="140.10" font-size="6.0" text-anchor="middle">ΔRA (″)</text>
<text x="453.80" y="64.40" font-size="6.0" text-anchor="middle" textLength="20.5" lengthAdjust="spacingAndGlyphs" transform="rotate(-90 453.80 64.40)">ΔDec (″)</text>
<text x="458.50" y="140.10" font-size="6.0" textLength="25.8" lengthAdjust="spacingAndGlyphs">AO Men #2</text>
<text x="586.60" y="3.00" font-size="3.60" fill="#6a6a6a">2008.0</text>
<text x="586.60" y="121.10" font-size="3.60" fill="#6a6a6a">2012.0</text>
<text x="588.45" y="64.20" font-size="3.60" fill="#c83838" font-weight="bold">2009.1</text>
<text x="588.45" y="68.60" font-size="3.60" fill="#2e2e8e" font-weight="bold">2010.0</text>
<path d="M576.75 36.90L579.85 36.90L583.25 62.50L586.05 62.90" stroke="#dc6a6a" stroke-width="0.65" fill="none"/>
<path d="M576.75 61.30L579.25 61.30L583.25 66.90L586.05 67.10" stroke="#6262b4" stroke-width="0.65" fill="none"/>
<clipPath id="c5"><rect x="21.35" y="152.35" width="104.20" height="125.20"/></clipPath>
<path d="M100.90 152.35V277.55M72.20 152.35V277.55M43.50 152.35V277.55M21.35 260.50H125.55M21.35 239.96H125.55M21.35 219.42H125.55M21.35 198.88H125.55M21.35 178.34H125.55M21.35 157.80H125.55" stroke="#e6e6e6" stroke-width="0.75" fill="none"/>
<path d="M122.43 277.55v-1.20M122.43 152.35v1.20M115.25 277.55v-1.20M115.25 152.35v1.20M108.08 277.55v-1.20M108.08 152.35v1.20M100.90 277.55v-2.40M100.90 152.35v2.40M93.73 277.55v-1.20M93.73 152.35v1.20M86.55 277.55v-1.20M86.55 152.35v1.20M79.38 277.55v-1.20M79.38 152.35v1.20M72.20 277.55v-2.40M72.20 152.35v2.40M65.02 277.55v-1.20M65.02 152.35v1.20M57.85 277.55v-1.20M57.85 152.35v1.20M50.67 277.55v-1.20M50.67 152.35v1.20M43.50 277.55v-2.40M43.50 152.35v2.40M36.32 277.55v-1.20M36.32 152.35v1.20M29.15 277.55v-1.20M29.15 152.35v1.20M21.97 277.55v-1.20M21.97 152.35v1.20M21.35 276.93h1.20M125.55 276.93h-1.20M21.35 272.82h1.20M125.55 272.82h-1.20M21.35 268.72h1.20M125.55 268.72h-1.20M21.35 264.61h1.20M125.55 264.61h-1.20M21.35 260.50h2.40M125.55 260.50h-2.40M21.35 256.39h1.20M125.55 256.39h-1.20M21.35 252.28h1.20M125.55 252.28h-1.20M21.35 248.18h1.20M125.55 248.18h-1.20M21.35 244.07h1.20M125.55 244.07h-1.20M21.35 239.96h2.40M125.55 239.96h-2.40M21.35 235.85h1.20M125.55 235.85h-1.20M21.35 231.74h1.20M125.55 231.74h-1.20M21.35 227.64h1.20M125.55 227.64h-1.20M21.35 223.53h1.20M125.55 223.53h-1.20M21.35 219.42h2.40M125.55 219.42h-2.40M21.35 215.31h1.20M125.55 215.31h-1.20M21.35 211.20h1.20M125.55 211.20h-1.20M21.35 207.10h1.20M125.55 207.10h-1.20M21.35 202.99h1.20M125.55 202.99h-1.20M21.35 198.88h2.40M125.55 198.88h-2.40M21.35 194.77h1.20M125.55 194.77h-1.20M21.35 190.66h1.20M125.55 190.66h-1.20M21.35 186.56h1.20M125.55 186.56h-1.20M21.35 182.45h1.20M125.55 182.45h-1.20M21.35 178.34h2.40M125.55 178.34h-2.40M21.35 174.23h1.20M125.55 174.23h-1.20M21.35 170.12h1.20M125.55 170.12h-1.20M21.35 166.02h1.20M125.55 166.02h-1.20M21.35 161.91h1.20M125.55 161.91h-1.20M21.35 157.80h2.40M125.55 157.80h-2.40M21.35 153.69h1.20M125.55 153.69h-1.20" stroke="#555" stroke-width="0.65" fill="none"/>
<g clip-path="url(#c5)">
<path d="M73.5 149.4L75.4 150.8L77.7 152.1L80.2 153.3L83.3 154.6L86.3 155.6L89.9 156.7L93.3 157.5L97.1 158.3L101.1 159.0L105.4 159.6L109.3 160.0L113.6 160.2L117.6 160.4L121.4 160.3L124.9 160.2L128.3 159.8M128.4 152.9L123.5 152.3L118.0 152.0L112.0 151.9L105.5 152.2L99.3 152.7L92.9 153.4L87.1 154.4L81.6 155.7L76.3 157.1L71.9 158.6L67.6 160.4L64.3 162.2L62.6 163.3L61.3 164.3L60.2 165.3L59.3 166.3L58.5 167.4L57.9 168.4L57.5 169.5L57.3 170.5L57.2 171.6L57.4 172.8L57.7 173.8L58.3 175.0L59.0 176.0L60.0 177.2L61.0 178.1L62.4 179.2L65.5 181.2L69.5 183.1L74.1 184.8L79.5 186.3L85.6 187.6L91.9 188.6L98.2 189.3L104.6 189.6L110.8 189.6L116.4 189.1L118.7 188.8L120.8 188.3L122.6 187.8L123.9 187.2L124.4 186.9L124.9 186.4L125.1 186.0L125.1 185.6L124.9 185.2L124.6 184.8L123.4 184.0L121.6 183.3L119.3 182.7L116.2 182.1L112.8 181.7L109.1 181.4L105.3 181.2L101.3 181.2L97.0 181.3L92.6 181.5L88.6 181.8L80.5 182.8L73.4 184.1L67.1 185.6L61.4 187.4L58.6 188.5L56.3 189.5L54.0 190.7L52.1 191.8L50.3 193.1L48.9 194.2L47.7 195.4L46.8 196.6L46.1 197.8L45.6 199.2L45.5 200.2L45.5 201.5L45.8 202.7L46.3 203.9L46.9 204.9L47.9 206.1L49.0 207.2L50.4 208.3L51.9 209.4L53.6 210.4L57.6 212.3L62.2 214.0L67.5 215.6L73.6 216.9L80.3 218.0L87.0 218.6L93.7 218.9L100.2 218.8L103.2 218.6L105.8 218.3L108.2 217.8L110.1 217.3L111.6 216.8L112.7 216.1L113.1 215.7L113.3 215.3L113.3 214.9L113.2 214.5L112.9 214.1L112.4 213.7L111.0 213.0L109.1 212.4L106.6 211.8L103.7 211.3L100.2 210.9L96.7 210.6L92.9 210.5L85.0 210.6L77.0 211.1L68.9 212.1L61.8 213.4L55.5 214.9L49.8 216.7L45.0 218.6L42.6 219.8L40.7 220.8L39.1 221.9L37.6 223.1L36.4 224.3L35.3 225.5L34.6 226.7L34.0 228.1L33.8 229.1L33.7 230.3L33.9 231.6L34.3 232.8L35.0 233.9L35.9 235.1L37.0 236.3L38.3 237.4L39.8 238.4L41.5 239.5L45.4 241.4L50.2 243.2L55.6 244.8L62.1 246.2L68.8 247.3L75.8 248.0L82.5 248.2L88.9 248.1L91.8 247.8L94.5 247.5L96.7 247.1L98.7 246.5L100.1 245.9L101.1 245.2L101.4 244.9L101.6 244.5L101.5 244.1L101.4 243.7L101.0 243.3L100.5 242.9L99.0 242.2L97.0 241.6L94.5 241.0L91.4 240.5L87.9 240.1L80.9 239.8L73.0 239.9L65.0 240.4L56.9 241.4L50.2 242.6L43.9 244.1L38.2 245.9L35.3 247.0L33.1 248.0L30.7 249.1L28.8 250.2L27.2 251.3L25.7 252.5L24.5 253.6L23.5 254.8L22.8 256.0L22.3 257.3L22.0 258.3L21.9 259.5L22.1 260.8L22.5 262.0L23.2 263.2L24.0 264.3L25.1 265.5L26.4 266.6L27.9 267.7L29.6 268.7L31.5 269.7L33.8 270.8L38.7 272.6L44.0 274.1L50.5 275.6L57.3 276.6L64.3 277.3L71.0 277.5L74.4 277.5L77.6 277.3L80.5 277.1L83.1 276.7L85.3 276.3L87.2 275.7L88.5 275.1L89.4 274.4L89.8 273.8L89.7 273.2L89.3 272.6L88.4 272.1L87.2 271.5L85.6 271.0L81.5 270.1L76.6 269.5L70.9 269.1L64.9 269.1L58.4 269.3L52.5 269.8L46.7 270.5L40.8 271.4L35.7 272.5L30.7 273.8L26.2 275.3L22.1 276.9L18.5 278.7" stroke="#585858" stroke-width="0.85" fill="none"/>
<circle cx="93.17" cy="153.41" r="0.85" fill="#222"/>
<circle cx="81.40" cy="182.70" r="0.85" fill="#222"/>
<circle cx="69.63" cy="211.99" r="0.85" fill="#222"/>
<circle cx="57.86" cy="241.28" r="0.85" fill="#222"/>
<circle cx="46.09" cy="270.57" r="0.85" fill="#222"/>
<path d="M61.18 213.50L79.80 218.50" stroke="#2e2e8e" stroke-width="0.6" fill="none"/>
<path d="M43.20 187.80H73.80M58.50 183.20V192.40M43.20 186.40v2.80M73.80 186.40v2.80M57.10 183.20h2.80M57.10 192.40h2.80" stroke="#c83838" stroke-width="1.20" fill="none"/>
<path d="M64.40 218.50H95.20M79.80 213.50V223.50M64.40 217.10v2.80M95.20 217.10v2.80M78.40 213.50h2.80M78.40 223.50h2.80" stroke="#2e2e8e" stroke-width="1.20" fill="none"/>
</g>
<rect x="21.35" y="152.35" width="104.20" height="125.20" stroke="#a0a0a0" stroke-width="0.80" fill="none"/>
<text x="100.90" y="284.55" font-size="5.70" text-anchor="middle"><tspan font-weight="bold">−</tspan>3.28</text>
<text x="72.20" y="284.55" font-size="5.70" text-anchor="middle"><tspan font-weight="bold">−</tspan>3.26</text>
<text x="43.50" y="284.55" font-size="5.70" text-anchor="middle"><tspan font-weight="bold">−</tspan>3.24</text>
<text x="19.75" y="262.55" font-size="5.70" text-anchor="end">2.30</text>
<text x="19.75" y="242.01" font-size="5.70" text-anchor="end">2.35</text>
<text x="19.75" y="221.47" font-size="5.70" text-anchor="end">2.40</text>
<text x="19.75" y="200.93" font-size="5.70" text-anchor="end">2.45</text>
<text x="19.75" y="180.39" font-size="5.70" text-anchor="end">2.50</text>
<text x="19.75" y="159.85" font-size="5.70" text-anchor="end">2.55</text>
<text x="73.75" y="290.95" font-size="6.0" text-anchor="middle">ΔRA (″)</text>
<text x="6.65" y="215.25" font-size="6.0" text-anchor="middle" textLength="20.5" lengthAdjust="spacingAndGlyphs" transform="rotate(-90 6.65 215.25)">ΔDec (″)</text>
<text x="7.30" y="290.95" font-size="6.0" textLength="25.8" lengthAdjust="spacingAndGlyphs">AO Men #3</text>
<text x="135.40" y="153.85" font-size="3.60" fill="#6a6a6a">2008.0</text>
<text x="135.40" y="271.95" font-size="3.60" fill="#6a6a6a">2012.0</text>
<text x="137.25" y="215.05" font-size="3.60" fill="#c83838" font-weight="bold">2009.1</text>
<text x="137.25" y="219.45" font-size="3.60" fill="#2e2e8e" font-weight="bold">2010.0</text>
<path d="M125.55 187.75L128.65 187.75L132.05 213.35L134.85 213.75" stroke="#dc6a6a" stroke-width="0.65" fill="none"/>
<path d="M125.55 212.15L128.05 212.15L132.05 217.75L134.85 217.95" stroke="#6262b4" stroke-width="0.65" fill="none"/>
<clipPath id="c6"><rect x="171.75" y="152.35" width="104.20" height="125.20"/></clipPath>
<path d="M267.00 152.35V277.55M239.00 152.35V277.55M211.00 152.35V277.55M183.00 152.35V277.55M171.75 259.90H275.95M171.75 239.36H275.95M171.75 218.82H275.95M171.75 198.28H275.95M171.75 177.74H275.95M171.75 157.20H275.95" stroke="#e6e6e6" stroke-width="0.75" fill="none"/>
<path d="M274.00 277.55v-1.20M274.00 152.35v1.20M267.00 277.55v-2.40M267.00 152.35v2.40M260.00 277.55v-1.20M260.00 152.35v1.20M253.00 277.55v-1.20M253.00 152.35v1.20M246.00 277.55v-1.20M246.00 152.35v1.20M239.00 277.55v-2.40M239.00 152.35v2.40M232.00 277.55v-1.20M232.00 152.35v1.20M225.00 277.55v-1.20M225.00 152.35v1.20M218.00 277.55v-1.20M218.00 152.35v1.20M211.00 277.55v-2.40M211.00 152.35v2.40M204.00 277.55v-1.20M204.00 152.35v1.20M197.00 277.55v-1.20M197.00 152.35v1.20M190.00 277.55v-1.20M190.00 152.35v1.20M183.00 277.55v-2.40M183.00 152.35v2.40M176.00 277.55v-1.20M176.00 152.35v1.20M171.75 276.33h1.20M275.95 276.33h-1.20M171.75 272.22h1.20M275.95 272.22h-1.20M171.75 268.12h1.20M275.95 268.12h-1.20M171.75 264.01h1.20M275.95 264.01h-1.20M171.75 259.90h2.40M275.95 259.90h-2.40M171.75 255.79h1.20M275.95 255.79h-1.20M171.75 251.68h1.20M275.95 251.68h-1.20M171.75 247.58h1.20M275.95 247.58h-1.20M171.75 243.47h1.20M275.95 243.47h-1.20M171.75 239.36h2.40M275.95 239.36h-2.40M171.75 235.25h1.20M275.95 235.25h-1.20M171.75 231.14h1.20M275.95 231.14h-1.20M171.75 227.04h1.20M275.95 227.04h-1.20M171.75 222.93h1.20M275.95 222.93h-1.20M171.75 218.82h2.40M275.95 218.82h-2.40M171.75 214.71h1.20M275.95 214.71h-1.20M171.75 210.60h1.20M275.95 210.60h-1.20M171.75 206.50h1.20M275.95 206.50h-1.20M171.75 202.39h1.20M275.95 202.39h-1.20M171.75 198.28h2.40M275.95 198.28h-2.40M171.75 194.17h1.20M275.95 194.17h-1.20M171.75 190.06h1.20M275.95 190.06h-1.20M171.75 185.96h1.20M275.95 185.96h-1.20M171.75 181.85h1.20M275.95 181.85h-1.20M171.75 177.74h2.40M275.95 177.74h-2.40M171.75 173.63h1.20M275.95 173.63h-1.20M171.75 169.52h1.20M275.95 169.52h-1.20M171.75 165.42h1.20M275.95 165.42h-1.20M171.75 161.31h1.20M275.95 161.31h-1.20M171.75 157.20h2.40M275.95 157.20h-2.40M171.75 153.09h1.20M275.95 153.09h-1.20" stroke="#555" stroke-width="0.65" fill="none"/>
<g clip-path="url(#c6)">
<path d="M226.9 149.4L228.5 150.6L230.7 151.9L233.1 153.2L235.8 154.3L238.7 155.4L241.8 156.4L245.1 157.2L248.8 158.1L252.6 158.8L256.5 159.4L260.3 159.8L264.1 160.1L268.2 160.3L272.0 160.4L275.5 160.2L278.8 160.0M278.7 152.6L273.6 152.1L268.1 151.9L262.0 152.0L256.0 152.3L249.8 152.9L244.1 153.7L238.5 154.8L233.2 156.1L228.2 157.6L224.0 159.1L220.3 160.9L217.2 162.7L214.7 164.7L213.6 165.7L212.8 166.7L212.1 167.7L211.6 168.8L211.2 169.8L211.1 170.9L211.1 171.9L211.3 173.1L211.6 174.2L212.3 175.3L213.0 176.4L214.0 177.5L215.1 178.5L216.5 179.5L219.6 181.4L223.6 183.3L228.1 185.0L233.1 186.4L239.1 187.7L245.2 188.7L251.4 189.3L257.6 189.6L263.6 189.6L268.8 189.1L271.0 188.8L273.1 188.3L274.8 187.8L276.0 187.2L276.6 186.9L277.0 186.4L277.2 186.0L277.2 185.6L277.1 185.2L276.8 184.8L275.6 184.0L273.8 183.3L271.3 182.6L268.3 182.1L264.9 181.7L261.2 181.4L257.5 181.2L253.6 181.2L249.4 181.3L245.1 181.5L241.2 181.9L233.3 182.9L226.4 184.2L220.3 185.8L214.7 187.6L212.0 188.6L209.8 189.6L207.6 190.8L205.8 191.9L204.0 193.2L202.7 194.4L201.6 195.6L200.8 196.8L200.1 198.0L199.7 199.4L199.6 200.4L199.6 201.6L199.9 202.9L200.5 204.1L201.1 205.1L202.0 206.2L203.2 207.4L204.5 208.5L206.1 209.5L207.8 210.5L211.7 212.4L216.2 214.1L221.4 215.6L227.4 217.0L234.0 218.0L240.5 218.7L247.0 218.9L253.2 218.8L258.5 218.3L260.7 217.8L262.6 217.3L264.0 216.8L265.1 216.1L265.5 215.7L265.7 215.3L265.8 214.9L265.6 214.5L265.3 214.1L264.8 213.7L263.4 213.0L261.4 212.3L259.0 211.7L256.0 211.3L252.6 210.9L249.2 210.6L245.5 210.5L237.7 210.6L229.9 211.2L222.0 212.2L215.5 213.4L209.4 214.9L203.7 216.7L201.0 217.7L198.8 218.7L196.5 219.9L194.7 221.0L193.1 222.1L191.7 223.3L190.5 224.4L189.6 225.6L188.8 226.8L188.3 228.2L188.1 229.3L188.1 230.5L188.3 231.7L188.8 232.9L189.4 234.1L190.3 235.3L191.4 236.4L192.7 237.5L194.2 238.6L195.9 239.6L199.8 241.5L204.5 243.3L209.8 244.9L215.8 246.2L222.3 247.3L229.2 248.0L235.7 248.2L241.9 248.1L244.8 247.8L247.3 247.5L249.5 247.1L251.5 246.5L252.9 245.9L253.8 245.2L254.1 244.9L254.3 244.5L254.2 244.1L254.1 243.7L253.2 242.9L251.8 242.2L249.9 241.6L247.4 241.0L244.4 240.5L241.0 240.1L234.1 239.8L226.4 239.9L218.6 240.4L210.7 241.4L204.2 242.6L198.0 244.1L192.4 245.9L189.7 247.0L187.5 248.0L185.1 249.1L183.3 250.2L181.7 251.3L180.3 252.5L179.1 253.6L178.1 254.8L177.4 256.0L176.9 257.3L176.7 258.3L176.6 259.5L176.8 260.8L177.2 262.0L177.8 263.2L178.7 264.3L179.7 265.5L181.0 266.6L182.4 267.7L184.1 268.7L185.9 269.7L188.2 270.8L192.9 272.6L198.2 274.1L204.5 275.6L211.1 276.6L217.9 277.3L224.4 277.5L227.8 277.5L230.9 277.3L233.7 277.1L236.2 276.7L238.4 276.3L240.3 275.7L241.6 275.1L242.5 274.4L242.8 273.8L242.7 273.2L242.1 272.5L241.2 271.9L239.8 271.3L238.1 270.8L236.0 270.3L233.6 269.9L228.3 269.3L222.1 269.1L215.6 269.1L209.1 269.5L202.9 270.2L196.8 271.1L191.2 272.2L186.0 273.6L181.1 275.1L177.0 276.8L173.2 278.7L170.3 280.5" stroke="#585858" stroke-width="0.85" fill="none"/>
<circle cx="246.09" cy="153.41" r="0.85" fill="#222"/>
<circle cx="234.61" cy="182.70" r="0.85" fill="#222"/>
<circle cx="223.12" cy="211.99" r="0.85" fill="#222"/>
<circle cx="211.64" cy="241.28" r="0.85" fill="#222"/>
<circle cx="200.16" cy="270.57" r="0.85" fill="#222"/>
<path d="M214.88 213.50L185.50 261.75" stroke="#2e2e8e" stroke-width="0.6" fill="none"/>
<path d="M198.50 188.00H224.00M211.25 182.10V193.90M198.50 186.60v2.80M224.00 186.60v2.80M209.85 182.10h2.80M209.85 193.90h2.80" stroke="#c83838" stroke-width="1.20" fill="none"/>
<path d="M171.90 261.75H199.10M185.50 255.15V268.35M171.90 260.35v2.80M199.10 260.35v2.80M184.10 255.15h2.80M184.10 268.35h2.80" stroke="#2e2e8e" stroke-width="1.20" fill="none"/>
</g>
<rect x="171.75" y="152.35" width="104.20" height="125.20" stroke="#a0a0a0" stroke-width="0.80" fill="none"/>
<text x="267.00" y="284.55" font-size="5.70" text-anchor="middle"><tspan font-weight="bold">−</tspan>4.62</text>
<text x="239.00" y="284.55" font-size="5.70" text-anchor="middle"><tspan font-weight="bold">−</tspan>4.60</text>
<text x="211.00" y="284.55" font-size="5.70" text-anchor="middle"><tspan font-weight="bold">−</tspan>4.58</text>
<text x="183.00" y="284.55" font-size="5.70" text-anchor="middle"><tspan font-weight="bold">−</tspan>4.56</text>
<text x="170.15" y="261.95" font-size="5.70" text-anchor="end">0.25</text>
<text x="170.15" y="241.41" font-size="5.70" text-anchor="end">0.30</text>
<text x="170.15" y="220.87" font-size="5.70" text-anchor="end">0.35</text>
<text x="170.15" y="200.33" font-size="5.70" text-anchor="end">0.40</text>
<text x="170.15" y="179.79" font-size="5.70" text-anchor="end">0.45</text>
<text x="170.15" y="159.25" font-size="5.70" text-anchor="end">0.50</text>
<text x="224.15" y="290.95" font-size="6.0" text-anchor="middle">ΔRA (″)</text>
<text x="157.05" y="215.25" font-size="6.0" text-anchor="middle" textLength="20.5" lengthAdjust="spacingAndGlyphs" transform="rotate(-90 157.05 215.25)">ΔDec (″)</text>
<text x="157.70" y="290.95" font-size="6.0" textLength="25.8" lengthAdjust="spacingAndGlyphs">AO Men #4</text>
<text x="285.80" y="153.85" font-size="3.60" fill="#6a6a6a">2008.0</text>
<text x="285.80" y="271.95" font-size="3.60" fill="#6a6a6a">2012.0</text>
<text x="287.65" y="215.05" font-size="3.60" fill="#c83838" font-weight="bold">2009.1</text>
<text x="287.65" y="219.45" font-size="3.60" fill="#2e2e8e" font-weight="bold">2010.0</text>
<path d="M275.95 187.75L279.05 187.75L282.45 213.35L285.25 213.75" stroke="#dc6a6a" stroke-width="0.65" fill="none"/>
<path d="M275.95 212.15L278.45 212.15L282.45 217.75L285.25 217.95" stroke="#6262b4" stroke-width="0.65" fill="none"/>
<clipPath id="c7"><rect x="322.15" y="152.35" width="104.20" height="125.20"/></clipPath>
<path d="M406.90 152.35V277.55M382.70 152.35V277.55M358.50 152.35V277.55M334.30 152.35V277.55M322.15 265.20H426.35M322.15 244.66H426.35M322.15 224.12H426.35M322.15 203.58H426.35M322.15 183.04H426.35M322.15 162.50H426.35" stroke="#e6e6e6" stroke-width="0.75" fill="none"/>
<path d="M425.05 277.55v-1.20M425.05 152.35v1.20M419.00 277.55v-1.20M419.00 152.35v1.20M412.95 277.55v-1.20M412.95 152.35v1.20M406.90 277.55v-2.40M406.90 152.35v2.40M400.85 277.55v-1.20M400.85 152.35v1.20M394.80 277.55v-1.20M394.80 152.35v1.20M388.75 277.55v-1.20M388.75 152.35v1.20M382.70 277.55v-2.40M382.70 152.35v2.40M376.65 277.55v-1.20M376.65 152.35v1.20M370.60 277.55v-1.20M370.60 152.35v1.20M364.55 277.55v-1.20M364.55 152.35v1.20M358.50 277.55v-2.40M358.50 152.35v2.40M352.45 277.55v-1.20M352.45 152.35v1.20M346.40 277.55v-1.20M346.40 152.35v1.20M340.35 277.55v-1.20M340.35 152.35v1.20M334.30 277.55v-2.40M334.30 152.35v2.40M328.25 277.55v-1.20M328.25 152.35v1.20M322.20 277.55v-1.20M322.20 152.35v1.20M322.15 277.52h1.20M426.35 277.52h-1.20M322.15 273.42h1.20M426.35 273.42h-1.20M322.15 269.31h1.20M426.35 269.31h-1.20M322.15 265.20h2.40M426.35 265.20h-2.40M322.15 261.09h1.20M426.35 261.09h-1.20M322.15 256.98h1.20M426.35 256.98h-1.20M322.15 252.88h1.20M426.35 252.88h-1.20M322.15 248.77h1.20M426.35 248.77h-1.20M322.15 244.66h2.40M426.35 244.66h-2.40M322.15 240.55h1.20M426.35 240.55h-1.20M322.15 236.44h1.20M426.35 236.44h-1.20M322.15 232.34h1.20M426.35 232.34h-1.20M322.15 228.23h1.20M426.35 228.23h-1.20M322.15 224.12h2.40M426.35 224.12h-2.40M322.15 220.01h1.20M426.35 220.01h-1.20M322.15 215.90h1.20M426.35 215.90h-1.20M322.15 211.80h1.20M426.35 211.80h-1.20M322.15 207.69h1.20M426.35 207.69h-1.20M322.15 203.58h2.40M426.35 203.58h-2.40M322.15 199.47h1.20M426.35 199.47h-1.20M322.15 195.36h1.20M426.35 195.36h-1.20M322.15 191.26h1.20M426.35 191.26h-1.20M322.15 187.15h1.20M426.35 187.15h-1.20M322.15 183.04h2.40M426.35 183.04h-2.40M322.15 178.93h1.20M426.35 178.93h-1.20M322.15 174.82h1.20M426.35 174.82h-1.20M322.15 170.72h1.20M426.35 170.72h-1.20M322.15 166.61h1.20M426.35 166.61h-1.20M322.15 162.50h2.40M426.35 162.50h-2.40M322.15 158.39h1.20M426.35 158.39h-1.20M322.15 154.28h1.20M426.35 154.28h-1.20" stroke="#555" stroke-width="0.65" fill="none"/>
<g clip-path="url(#c7)">
<path d="M382.9 149.4L384.5 150.8L386.5 152.1L388.6 153.3L391.2 154.6L393.8 155.6L396.8 156.7L399.6 157.5L402.9 158.3L406.2 159.0L409.9 159.6L413.2 160.0L416.7 160.2L420.1 160.4L423.3 160.3L426.3 160.2L429.2 159.8M429.2 152.9L425.1 152.3L420.5 152.0L415.4 151.9L410.0 152.2L404.7 152.7L399.3 153.4L394.4 154.4L389.7 155.7L385.3 157.1L381.6 158.6L378.0 160.4L375.2 162.2L373.8 163.3L372.7 164.3L371.0 166.3L370.3 167.4L369.8 168.4L369.5 169.5L369.3 170.5L369.2 171.6L369.4 172.8L369.6 173.8L370.1 175.0L370.7 176.0L371.6 177.2L372.4 178.1L373.6 179.2L376.2 181.2L379.6 183.1L383.4 184.8L388.0 186.3L393.1 187.6L398.5 188.6L403.8 189.3L409.2 189.6L414.4 189.6L419.1 189.1L421.0 188.8L422.8 188.3L424.3 187.8L425.4 187.2L425.9 186.9L426.3 186.4L426.4 186.0L426.4 185.6L426.3 185.2L426.0 184.8L425.0 184.0L423.5 183.3L421.5 182.7L418.9 182.1L416.1 181.7L412.9 181.4L409.7 181.2L406.4 181.2L402.8 181.3L399.1 181.5L395.7 181.8L388.8 182.8L382.8 184.1L377.5 185.6L372.7 187.4L370.4 188.5L368.5 189.5L366.5 190.7L364.9 191.8L363.4 193.1L362.2 194.2L361.2 195.4L360.4 196.6L359.9 197.8L359.5 199.2L359.3 200.2L359.4 201.5L359.6 202.7L360.0 203.9L360.5 204.9L361.3 206.1L362.3 207.2L363.4 208.3L364.7 209.4L366.2 210.4L369.5 212.3L373.4 214.0L377.9 215.6L383.1 216.9L388.7 218.0L394.3 218.6L400.0 218.9L405.4 218.8L408.0 218.6L410.2 218.3L412.2 217.8L413.8 217.3L415.0 216.8L416.0 216.1L416.3 215.7L416.5 215.3L416.5 214.9L416.4 214.5L415.7 213.7L414.6 213.0L413.0 212.4L410.9 211.8L408.4 211.3L405.5 210.9L402.5 210.6L399.3 210.5L392.7 210.6L385.9 211.1L379.1 212.1L373.1 213.4L367.8 214.9L362.9 216.7L358.9 218.6L356.9 219.8L355.3 220.8L353.9 221.9L352.7 223.1L351.6 224.3L350.8 225.5L350.1 226.7L349.6 228.1L349.4 229.1L349.4 230.3L349.6 231.6L349.9 232.8L350.5 233.9L351.2 235.1L352.1 236.3L353.3 237.4L354.5 238.4L356.0 239.5L359.2 241.4L363.3 243.2L367.8 244.8L373.3 246.2L379.0 247.3L384.9 248.0L390.6 248.2L395.9 248.1L398.4 247.8L400.6 247.5L402.5 247.1L404.2 246.5L405.4 245.9L406.2 245.2L406.5 244.9L406.6 244.5L406.4 243.7L405.7 242.9L404.5 242.2L402.8 241.6L400.6 241.0L398.1 240.5L395.1 240.1L389.2 239.8L382.5 239.9L375.8 240.4L368.9 241.4L363.3 242.6L358.0 244.1L353.1 245.9L350.8 247.0L348.8 248.0L346.8 249.1L345.3 250.2L343.9 251.3L342.7 252.5L341.6 253.6L340.8 254.8L340.2 256.0L339.7 257.3L339.5 258.3L339.5 259.5L339.6 260.8L340.0 262.0L340.5 263.2L341.2 264.3L342.2 265.5L343.3 266.6L344.5 267.7L345.9 268.7L347.5 269.7L349.5 270.8L353.6 272.6L358.1 274.1L363.6 275.6L369.2 276.6L375.2 277.3L380.8 277.5L383.7 277.5L386.4 277.3L388.8 277.1L391.0 276.7L392.9 276.3L394.5 275.7L395.6 275.1L396.4 274.4L396.7 273.8L396.6 273.2L396.1 272.5L395.3 271.9L394.0 271.3L392.6 270.8L390.8 270.3L388.8 269.9L384.2 269.3L378.8 269.1L373.1 269.1L367.6 269.5L362.2 270.2L356.9 271.1L352.1 272.2L347.6 273.6L343.4 275.1L339.9 276.8L336.6 278.7L334.0 280.5" stroke="#585858" stroke-width="0.85" fill="none"/>
<circle cx="399.53" cy="153.41" r="0.85" fill="#222"/>
<circle cx="389.61" cy="182.70" r="0.85" fill="#222"/>
<circle cx="379.68" cy="211.99" r="0.85" fill="#222"/>
<circle cx="369.75" cy="241.28" r="0.85" fill="#222"/>
<circle cx="359.83" cy="270.57" r="0.85" fill="#222"/>
<path d="M372.55 213.50L338.90 221.25" stroke="#2e2e8e" stroke-width="0.6" fill="none"/>
<path d="M353.75 188.00H386.25M370.00 182.60V193.40M353.75 186.60v2.80M386.25 186.60v2.80M368.60 182.60h2.80M368.60 193.40h2.80" stroke="#c83838" stroke-width="1.20" fill="none"/>
<path d="M322.15 221.25H355.65M338.90 215.25V227.25M322.15 219.85v2.80M355.65 219.85v2.80M337.50 215.25h2.80M337.50 227.25h2.80" stroke="#2e2e8e" stroke-width="1.20" fill="none"/>
</g>
<rect x="322.15" y="152.35" width="104.20" height="125.20" stroke="#a0a0a0" stroke-width="0.80" fill="none"/>
<text x="406.90" y="284.55" font-size="5.70" text-anchor="middle"><tspan font-weight="bold">−</tspan>4.04</text>
<text x="382.70" y="284.55" font-size="5.70" text-anchor="middle"><tspan font-weight="bold">−</tspan>4.02</text>
<text x="358.50" y="284.55" font-size="5.70" text-anchor="middle"><tspan font-weight="bold">−</tspan>4.00</text>
<text x="334.30" y="284.55" font-size="5.70" text-anchor="middle"><tspan font-weight="bold">−</tspan>3.98</text>
<text x="320.55" y="267.25" font-size="5.70" text-anchor="end"><tspan font-weight="bold">−</tspan>3.55</text>
<text x="320.55" y="246.71" font-size="5.70" text-anchor="end"><tspan font-weight="bold">−</tspan>3.50</text>
<text x="320.55" y="226.17" font-size="5.70" text-anchor="end"><tspan font-weight="bold">−</tspan>3.45</text>
<text x="320.55" y="205.63" font-size="5.70" text-anchor="end"><tspan font-weight="bold">−</tspan>3.40</text>
<text x="320.55" y="185.09" font-size="5.70" text-anchor="end"><tspan font-weight="bold">−</tspan>3.35</text>
<text x="320.55" y="164.55" font-size="5.70" text-anchor="end"><tspan font-weight="bold">−</tspan>3.30</text>
<text x="374.55" y="290.95" font-size="6.0" text-anchor="middle">ΔRA (″)</text>
<text x="303.40" y="215.25" font-size="6.0" text-anchor="middle" textLength="20.5" lengthAdjust="spacingAndGlyphs" transform="rotate(-90 303.40 215.25)">ΔDec (″)</text>
<text x="308.10" y="290.95" font-size="6.0" textLength="25.8" lengthAdjust="spacingAndGlyphs">AO Men #5</text>
<text x="436.20" y="153.85" font-size="3.60" fill="#6a6a6a">2008.0</text>
<text x="436.20" y="271.95" font-size="3.60" fill="#6a6a6a">2012.0</text>
<text x="438.05" y="215.05" font-size="3.60" fill="#c83838" font-weight="bold">2009.1</text>
<text x="438.05" y="219.45" font-size="3.60" fill="#2e2e8e" font-weight="bold">2010.0</text>
<path d="M426.35 187.75L429.45 187.75L432.85 213.35L435.65 213.75" stroke="#dc6a6a" stroke-width="0.65" fill="none"/>
<path d="M426.35 212.15L428.85 212.15L432.85 217.75L435.65 217.95" stroke="#6262b4" stroke-width="0.65" fill="none"/>
<clipPath id="c8"><rect x="472.55" y="152.35" width="104.20" height="125.20"/></clipPath>
<path d="M561.00 152.35V277.55M532.20 152.35V277.55M503.40 152.35V277.55M474.60 152.35V277.55M472.55 274.45H576.75M472.55 253.91H576.75M472.55 233.37H576.75M472.55 212.83H576.75M472.55 192.29H576.75M472.55 171.75H576.75" stroke="#e6e6e6" stroke-width="0.75" fill="none"/>
<path d="M575.40 277.55v-1.20M575.40 152.35v1.20M568.20 277.55v-1.20M568.20 152.35v1.20M561.00 277.55v-2.40M561.00 152.35v2.40M553.80 277.55v-1.20M553.80 152.35v1.20M546.60 277.55v-1.20M546.60 152.35v1.20M539.40 277.55v-1.20M539.40 152.35v1.20M532.20 277.55v-2.40M532.20 152.35v2.40M525.00 277.55v-1.20M525.00 152.35v1.20M517.80 277.55v-1.20M517.80 152.35v1.20M510.60 277.55v-1.20M510.60 152.35v1.20M503.40 277.55v-2.40M503.40 152.35v2.40M496.20 277.55v-1.20M496.20 152.35v1.20M489.00 277.55v-1.20M489.00 152.35v1.20M481.80 277.55v-1.20M481.80 152.35v1.20M474.60 277.55v-2.40M474.60 152.35v2.40M472.55 274.45h2.40M576.75 274.45h-2.40M472.55 270.34h1.20M576.75 270.34h-1.20M472.55 266.23h1.20M576.75 266.23h-1.20M472.55 262.13h1.20M576.75 262.13h-1.20M472.55 258.02h1.20M576.75 258.02h-1.20M472.55 253.91h2.40M576.75 253.91h-2.40M472.55 249.80h1.20M576.75 249.80h-1.20M472.55 245.69h1.20M576.75 245.69h-1.20M472.55 241.59h1.20M576.75 241.59h-1.20M472.55 237.48h1.20M576.75 237.48h-1.20M472.55 233.37h2.40M576.75 233.37h-2.40M472.55 229.26h1.20M576.75 229.26h-1.20M472.55 225.15h1.20M576.75 225.15h-1.20M472.55 221.05h1.20M576.75 221.05h-1.20M472.55 216.94h1.20M576.75 216.94h-1.20M472.55 212.83h2.40M576.75 212.83h-2.40M472.55 208.72h1.20M576.75 208.72h-1.20M472.55 204.61h1.20M576.75 204.61h-1.20M472.55 200.51h1.20M576.75 200.51h-1.20M472.55 196.40h1.20M576.75 196.40h-1.20M472.55 192.29h2.40M576.75 192.29h-2.40M472.55 188.18h1.20M576.75 188.18h-1.20M472.55 184.07h1.20M576.75 184.07h-1.20M472.55 179.97h1.20M576.75 179.97h-1.20M472.55 175.86h1.20M576.75 175.86h-1.20M472.55 171.75h2.40M576.75 171.75h-2.40M472.55 167.64h1.20M576.75 167.64h-1.20M472.55 163.53h1.20M576.75 163.53h-1.20M472.55 159.43h1.20M576.75 159.43h-1.20M472.55 155.32h1.20M576.75 155.32h-1.20" stroke="#555" stroke-width="0.65" fill="none"/>
<g clip-path="url(#c8)">
<path d="M524.8 149.4L526.7 150.8L529.0 152.1L531.5 153.3L534.3 154.5L537.3 155.5L540.9 156.6L544.3 157.4L548.1 158.2L552.1 158.9L556.4 159.5L560.4 159.9L564.6 160.2L568.7 160.3L572.5 160.3L576.1 160.2L579.5 159.9M579.6 152.8L574.6 152.3L569.1 152.0L563.0 151.9L556.5 152.2L550.2 152.7L543.8 153.5L538.0 154.5L532.5 155.8L527.3 157.2L522.9 158.7L518.6 160.6L515.3 162.4L513.6 163.5L512.4 164.5L511.3 165.5L510.4 166.5L509.7 167.5L509.1 168.6L508.7 169.6L508.5 170.7L508.5 171.7L508.7 173.0L509.0 174.0L509.7 175.2L510.4 176.2L511.4 177.3L512.5 178.3L513.9 179.4L517.1 181.3L521.1 183.2L525.7 184.9L531.2 186.4L537.3 187.7L543.7 188.7L550.0 189.3L556.4 189.6L562.6 189.6L567.9 189.1L570.1 188.8L572.3 188.3L574.0 187.8L575.3 187.2L575.9 186.9L576.3 186.4L576.5 186.0L576.6 185.6L576.4 185.2L576.1 184.8L574.9 184.0L573.0 183.3L570.7 182.7L567.6 182.1L564.3 181.7L560.5 181.4L556.7 181.2L552.7 181.2L548.4 181.3L544.0 181.5L540.0 181.8L531.8 182.8L524.7 184.1L518.4 185.6L512.6 187.4L509.8 188.5L507.6 189.5L505.2 190.7L503.4 191.8L501.5 193.1L500.1 194.2L499.0 195.4L498.0 196.6L497.3 197.8L496.8 199.2L496.7 200.2L496.7 201.5L497.0 202.7L497.5 203.9L498.1 204.9L499.1 206.1L500.2 207.2L501.6 208.3L503.1 209.4L504.9 210.4L508.8 212.3L513.4 214.0L518.8 215.6L524.9 216.9L531.7 218.0L538.4 218.6L545.1 218.9L551.6 218.8L554.6 218.6L557.3 218.3L559.6 217.8L561.5 217.3L563.0 216.8L564.1 216.1L564.5 215.7L564.7 215.3L564.8 214.9L564.6 214.5L564.3 214.1L563.8 213.7L562.5 213.0L560.5 212.4L558.1 211.8L555.1 211.3L551.6 210.9L548.1 210.6L544.3 210.5L536.4 210.6L528.3 211.1L520.2 212.1L513.1 213.4L506.8 214.9L501.0 216.7L496.2 218.6L493.8 219.8L491.9 220.8L490.2 221.9L488.8 223.1L487.5 224.3L486.5 225.5L485.7 226.7L485.2 228.1L484.9 229.1L484.9 230.3L485.1 231.6L485.5 232.8L486.2 233.9L487.0 235.1L488.2 236.3L489.5 237.4L491.0 238.4L492.7 239.5L496.6 241.4L501.5 243.2L506.8 244.8L513.4 246.2L520.1 247.3L527.2 248.0L533.9 248.2L540.2 248.1L543.2 247.8L545.8 247.5L548.1 247.1L550.1 246.5L551.5 245.9L552.5 245.2L552.8 244.9L553.0 244.5L552.9 244.1L552.7 243.7L552.4 243.3L551.9 242.9L550.4 242.2L548.4 241.6L545.9 241.0L542.8 240.5L539.3 240.1L532.3 239.8L524.3 239.9L516.3 240.4L508.1 241.4L501.5 242.6L495.1 244.1L489.3 245.9L486.5 247.0L484.2 248.0L481.8 249.1L480.0 250.2L478.3 251.3L476.9 252.5L475.6 253.6L474.6 254.8L473.9 256.0L473.4 257.3L473.1 258.3L473.1 259.5L473.2 260.8L473.7 262.0L474.3 263.2L475.2 264.3L476.3 265.5L477.6 266.6L479.1 267.7L480.8 268.7L482.6 269.7L485.0 270.8L489.8 272.6L495.2 274.1L501.8 275.6L508.5 276.6L515.6 277.3L522.3 277.5L525.7 277.5L528.9 277.3L531.8 277.1L534.4 276.7L536.6 276.3L538.6 275.7L539.9 275.1L540.8 274.4L541.1 273.8L541.1 273.2L540.6 272.6L539.8 272.1L538.5 271.5L536.9 271.0L532.8 270.1L528.0 269.5L522.2 269.1L516.1 269.1L509.6 269.3L503.8 269.8L497.9 270.5L492.0 271.4L486.8 272.5L481.9 273.8L477.3 275.3L473.2 276.9L469.6 278.7" stroke="#585858" stroke-width="0.85" fill="none"/>
<circle cx="544.54" cy="153.41" r="0.85" fill="#222"/>
<circle cx="532.73" cy="182.70" r="0.85" fill="#222"/>
<circle cx="520.92" cy="211.99" r="0.85" fill="#222"/>
<circle cx="509.11" cy="241.28" r="0.85" fill="#222"/>
<circle cx="497.29" cy="270.57" r="0.85" fill="#222"/>
<path d="M512.44 213.50L496.25 225.50" stroke="#2e2e8e" stroke-width="0.6" fill="none"/>
<path d="M492.75 188.00H524.75M508.75 180.50V195.50M492.75 186.60v2.80M524.75 186.60v2.80M507.35 180.50h2.80M507.35 195.50h2.80" stroke="#c83838" stroke-width="1.20" fill="none"/>
<path d="M481.25 225.50H511.25M496.25 218.00V233.00M481.25 224.10v2.80M511.25 224.10v2.80M494.85 218.00h2.80M494.85 233.00h2.80" stroke="#2e2e8e" stroke-width="1.20" fill="none"/>
</g>
<rect x="472.55" y="152.35" width="104.20" height="125.20" stroke="#a0a0a0" stroke-width="0.80" fill="none"/>
<text x="561.00" y="284.55" font-size="5.70" text-anchor="middle"><tspan font-weight="bold">−</tspan>5.20</text>
<text x="532.20" y="284.55" font-size="5.70" text-anchor="middle"><tspan font-weight="bold">−</tspan>5.18</text>
<text x="503.40" y="284.55" font-size="5.70" text-anchor="middle"><tspan font-weight="bold">−</tspan>5.16</text>
<text x="474.60" y="284.55" font-size="5.70" text-anchor="middle"><tspan font-weight="bold">−</tspan>5.14</text>
<text x="470.95" y="276.50" font-size="5.70" text-anchor="end"><tspan font-weight="bold">−</tspan>2.25</text>
<text x="470.95" y="255.96" font-size="5.70" text-anchor="end"><tspan font-weight="bold">−</tspan>2.20</text>
<text x="470.95" y="235.42" font-size="5.70" text-anchor="end"><tspan font-weight="bold">−</tspan>2.15</text>
<text x="470.95" y="214.88" font-size="5.70" text-anchor="end"><tspan font-weight="bold">−</tspan>2.10</text>
<text x="470.95" y="194.34" font-size="5.70" text-anchor="end"><tspan font-weight="bold">−</tspan>2.05</text>
<text x="470.95" y="173.80" font-size="5.70" text-anchor="end"><tspan font-weight="bold">−</tspan>2.00</text>
<text x="524.95" y="290.95" font-size="6.0" text-anchor="middle">ΔRA (″)</text>
<text x="453.80" y="215.25" font-size="6.0" text-anchor="middle" textLength="20.5" lengthAdjust="spacingAndGlyphs" transform="rotate(-90 453.80 215.25)">ΔDec (″)</text>
<text x="458.50" y="290.95" font-size="6.0" textLength="25.8" lengthAdjust="spacingAndGlyphs">AO Men #6</text>
<text x="586.60" y="153.85" font-size="3.60" fill="#6a6a6a">2008.0</text>
<text x="586.60" y="271.95" font-size="3.60" fill="#6a6a6a">2012.0</text>
<text x="588.45" y="215.05" font-size="3.60" fill="#c83838" font-weight="bold">2009.1</text>
<text x="588.45" y="219.45" font-size="3.60" fill="#2e2e8e" font-weight="bold">2010.0</text>
<path d="M576.75 187.75L579.85 187.75L583.25 213.35L586.05 213.75" stroke="#dc6a6a" stroke-width="0.65" fill="none"/>
<path d="M576.75 212.15L579.25 212.15L583.25 217.75L586.05 217.95" stroke="#6262b4" stroke-width="0.65" fill="none"/>
<clipPath id="c9"><rect x="21.35" y="303.20" width="104.20" height="125.20"/></clipPath>
<path d="M109.50 303.20V428.40M80.33 303.20V428.40M51.17 303.20V428.40M21.35 425.95H125.55M21.35 405.41H125.55M21.35 384.87H125.55M21.35 364.33H125.55M21.35 343.79H125.55M21.35 323.25H125.55" stroke="#e6e6e6" stroke-width="0.75" fill="none"/>
<path d="M124.08 428.40v-1.20M124.08 303.20v1.20M116.79 428.40v-1.20M116.79 303.20v1.20M109.50 428.40v-2.40M109.50 303.20v2.40M102.21 428.40v-1.20M102.21 303.20v1.20M94.92 428.40v-1.20M94.92 303.20v1.20M87.63 428.40v-1.20M87.63 303.20v1.20M80.33 428.40v-2.40M80.33 303.20v2.40M73.04 428.40v-1.20M73.04 303.20v1.20M65.75 428.40v-1.20M65.75 303.20v1.20M58.46 428.40v-1.20M58.46 303.20v1.20M51.17 428.40v-2.40M51.17 303.20v2.40M43.88 428.40v-1.20M43.88 303.20v1.20M36.58 428.40v-1.20M36.58 303.20v1.20M29.29 428.40v-1.20M29.29 303.20v1.20M22.00 428.40v-2.40M22.00 303.20v2.40M21.35 425.95h2.40M125.55 425.95h-2.40M21.35 421.84h1.20M125.55 421.84h-1.20M21.35 417.73h1.20M125.55 417.73h-1.20M21.35 413.63h1.20M125.55 413.63h-1.20M21.35 409.52h1.20M125.55 409.52h-1.20M21.35 405.41h2.40M125.55 405.41h-2.40M21.35 401.30h1.20M125.55 401.30h-1.20M21.35 397.19h1.20M125.55 397.19h-1.20M21.35 393.09h1.20M125.55 393.09h-1.20M21.35 388.98h1.20M125.55 388.98h-1.20M21.35 384.87h2.40M125.55 384.87h-2.40M21.35 380.76h1.20M125.55 380.76h-1.20M21.35 376.65h1.20M125.55 376.65h-1.20M21.35 372.55h1.20M125.55 372.55h-1.20M21.35 368.44h1.20M125.55 368.44h-1.20M21.35 364.33h2.40M125.55 364.33h-2.40M21.35 360.22h1.20M125.55 360.22h-1.20M21.35 356.11h1.20M125.55 356.11h-1.20M21.35 352.01h1.20M125.55 352.01h-1.20M21.35 347.90h1.20M125.55 347.90h-1.20M21.35 343.79h2.40M125.55 343.79h-2.40M21.35 339.68h1.20M125.55 339.68h-1.20M21.35 335.57h1.20M125.55 335.57h-1.20M21.35 331.47h1.20M125.55 331.47h-1.20M21.35 327.36h1.20M125.55 327.36h-1.20M21.35 323.25h2.40M125.55 323.25h-2.40M21.35 319.14h1.20M125.55 319.14h-1.20M21.35 315.03h1.20M125.55 315.03h-1.20M21.35 310.93h1.20M125.55 310.93h-1.20M21.35 306.82h1.20M125.55 306.82h-1.20" stroke="#555" stroke-width="0.65" fill="none"/>
<g clip-path="url(#c9)">
<path d="M74.0 300.3L76.0 301.7L78.2 303.0L80.7 304.3L83.5 305.5L86.5 306.5L89.7 307.5L93.0 308.4L96.9 309.3L100.9 310.0L104.9 310.6L108.9 311.0L113.3 311.4L117.5 311.6L121.4 311.6L125.1 311.5L128.5 311.3M128.5 303.9L123.1 303.4L117.4 303.2L111.0 303.2L104.8 303.6L98.4 304.2L92.4 305.0L86.6 306.0L81.0 307.3L75.8 308.8L71.5 310.4L67.6 312.1L64.4 314.0L61.7 315.9L60.7 316.9L59.8 317.9L59.1 319.0L58.5 320.0L58.2 321.1L58.0 322.1L58.0 323.2L58.2 324.4L58.6 325.4L59.3 326.6L60.0 327.6L61.1 328.7L62.2 329.7L63.7 330.8L66.9 332.7L71.1 334.6L75.8 336.2L80.9 337.6L87.2 339.0L93.6 339.9L100.0 340.6L106.4 340.9L112.7 340.8L118.1 340.4L120.4 340.0L122.6 339.6L124.3 339.1L125.7 338.5L126.2 338.1L126.7 337.7L126.9 337.3L126.9 336.9L126.8 336.5L126.4 336.1L125.2 335.3L123.3 334.5L120.8 333.9L117.6 333.3L114.1 332.9L110.2 332.6L106.4 332.5L102.3 332.4L98.0 332.6L93.5 332.8L89.4 333.1L81.1 334.2L73.9 335.5L67.6 337.0L61.8 338.8L59.0 339.9L56.7 340.9L54.4 342.1L52.5 343.2L50.7 344.5L49.3 345.6L48.2 346.8L47.3 348.0L46.6 349.2L46.1 350.6L46.0 351.7L46.1 352.9L46.4 354.1L46.9 355.3L47.6 356.3L48.6 357.5L49.8 358.6L51.2 359.7L52.8 360.8L54.6 361.8L58.6 363.7L63.3 365.4L68.8 366.9L75.0 368.2L81.8 369.3L88.6 369.9L95.4 370.2L101.9 370.0L107.4 369.5L109.7 369.1L111.7 368.6L113.2 368.0L114.3 367.4L114.7 367.0L114.9 366.6L115.0 366.2L114.8 365.8L114.5 365.4L114.0 365.0L112.5 364.2L110.5 363.6L107.9 363.0L104.8 362.5L101.3 362.1L97.7 361.9L93.8 361.7L85.8 361.8L77.6 362.4L69.3 363.4L62.6 364.6L56.2 366.1L50.4 367.9L47.5 369.0L45.2 370.0L42.8 371.2L40.9 372.2L39.2 373.4L37.8 374.5L36.6 375.7L35.6 376.9L34.8 378.1L34.3 379.5L34.1 380.5L34.1 381.8L34.3 383.0L34.8 384.2L35.5 385.4L36.4 386.5L37.5 387.7L38.9 388.8L40.5 389.8L42.2 390.9L46.2 392.8L51.2 394.6L56.7 396.1L62.9 397.5L69.7 398.5L76.9 399.2L83.7 399.5L90.1 399.3L93.1 399.1L95.8 398.7L98.1 398.3L100.1 397.8L101.5 397.2L102.6 396.5L102.9 396.1L103.0 395.7L103.0 395.3L102.8 395.0L102.4 394.6L101.9 394.2L100.4 393.5L98.4 392.8L95.8 392.3L92.7 391.8L89.1 391.4L82.0 391.0L74.0 391.1L65.9 391.7L57.6 392.7L50.8 393.9L44.4 395.4L38.6 397.2L35.7 398.2L33.4 399.2L31.0 400.4L29.1 401.5L27.4 402.6L25.9 403.7L24.7 404.9L23.7 406.1L22.9 407.3L22.4 408.5L22.2 409.6L22.1 410.8L22.3 412.0L22.7 413.2L23.3 414.4L24.2 415.6L25.3 416.7L26.7 417.8L28.2 418.9L29.9 419.9L31.8 420.9L34.1 422.0L39.1 423.8L44.5 425.4L51.2 426.8L58.0 427.8L65.1 428.5L72.3 428.8L75.7 428.7L79.0 428.6L81.9 428.3L84.4 427.9L86.6 427.5L88.6 426.9L89.9 426.3L90.7 425.6L91.0 425.0L90.9 424.4L90.4 423.8L89.5 423.2L88.2 422.7L86.5 422.1L82.4 421.3L77.3 420.7L71.8 420.4L65.7 420.3L59.1 420.6L53.2 421.0L47.2 421.7L41.3 422.7L36.0 423.8L31.0 425.1L26.4 426.5L22.2 428.1L18.6 429.9" stroke="#585858" stroke-width="0.85" fill="none"/>
<circle cx="94.48" cy="304.66" r="0.85" fill="#222"/>
<circle cx="82.52" cy="333.95" r="0.85" fill="#222"/>
<circle cx="70.55" cy="363.24" r="0.85" fill="#222"/>
<circle cx="58.59" cy="392.53" r="0.85" fill="#222"/>
<circle cx="46.63" cy="421.82" r="0.85" fill="#222"/>
<path d="M61.96 364.75L92.50 367.50" stroke="#2e2e8e" stroke-width="0.6" fill="none"/>
<path d="M33.85 339.25H82.65M58.25 334.25V344.25M33.85 337.85v2.80M82.65 337.85v2.80M56.85 334.25h2.80M56.85 344.25h2.80" stroke="#c83838" stroke-width="1.20" fill="none"/>
<path d="M63.75 367.50H121.25M92.50 361.50V373.50M63.75 366.10v2.80M121.25 366.10v2.80M91.10 361.50h2.80M91.10 373.50h2.80" stroke="#2e2e8e" stroke-width="1.20" fill="none"/>
</g>
<rect x="21.35" y="303.20" width="104.20" height="125.20" stroke="#a0a0a0" stroke-width="0.80" fill="none"/>
<text x="109.50" y="435.40" font-size="5.70" text-anchor="middle"><tspan font-weight="bold">−</tspan>2.40</text>
<text x="80.33" y="435.40" font-size="5.70" text-anchor="middle"><tspan font-weight="bold">−</tspan>2.38</text>
<text x="51.17" y="435.40" font-size="5.70" text-anchor="middle"><tspan font-weight="bold">−</tspan>2.36</text>
<text x="22.00" y="435.40" font-size="5.70" text-anchor="middle"><tspan font-weight="bold">−</tspan>2.34</text>
<text x="19.75" y="428.00" font-size="5.70" text-anchor="end">5.05</text>
<text x="19.75" y="407.46" font-size="5.70" text-anchor="end">5.10</text>
<text x="19.75" y="386.92" font-size="5.70" text-anchor="end">5.15</text>
<text x="19.75" y="366.38" font-size="5.70" text-anchor="end">5.20</text>
<text x="19.75" y="345.84" font-size="5.70" text-anchor="end">5.25</text>
<text x="19.75" y="325.30" font-size="5.70" text-anchor="end">5.30</text>
<text x="73.75" y="441.80" font-size="6.0" text-anchor="middle">ΔRA (″)</text>
<text x="6.65" y="366.10" font-size="6.0" text-anchor="middle" textLength="20.5" lengthAdjust="spacingAndGlyphs" transform="rotate(-90 6.65 366.10)">ΔDec (″)</text>
<text x="7.30" y="441.80" font-size="6.0" textLength="25.8" lengthAdjust="spacingAndGlyphs">AO Men #7</text>
<text x="135.40" y="304.70" font-size="3.60" fill="#6a6a6a">2008.0</text>
<text x="135.40" y="422.80" font-size="3.60" fill="#6a6a6a">2012.0</text>
<text x="137.25" y="365.90" font-size="3.60" fill="#c83838" font-weight="bold">2009.1</text>
<text x="137.25" y="370.30" font-size="3.60" fill="#2e2e8e" font-weight="bold">2010.0</text>
<path d="M125.55 338.60L128.65 338.60L132.05 364.20L134.85 364.60" stroke="#dc6a6a" stroke-width="0.65" fill="none"/>
<path d="M125.55 363.00L128.05 363.00L132.05 368.60L134.85 368.80" stroke="#6262b4" stroke-width="0.65" fill="none"/>
<clipPath id="c10"><rect x="171.75" y="303.20" width="104.20" height="125.20"/></clipPath>
<path d="M252.40 303.20V428.40M228.00 303.20V428.40M203.60 303.20V428.40M179.20 303.20V428.40M171.75 425.70H275.95M171.75 405.16H275.95M171.75 384.62H275.95M171.75 364.08H275.95M171.75 343.54H275.95M171.75 323.00H275.95" stroke="#e6e6e6" stroke-width="0.75" fill="none"/>
<path d="M270.70 428.40v-1.20M270.70 303.20v1.20M264.60 428.40v-1.20M264.60 303.20v1.20M258.50 428.40v-1.20M258.50 303.20v1.20M252.40 428.40v-2.40M252.40 303.20v2.40M246.30 428.40v-1.20M246.30 303.20v1.20M240.20 428.40v-1.20M240.20 303.20v1.20M234.10 428.40v-1.20M234.10 303.20v1.20M228.00 428.40v-2.40M228.00 303.20v2.40M221.90 428.40v-1.20M221.90 303.20v1.20M215.80 428.40v-1.20M215.80 303.20v1.20M209.70 428.40v-1.20M209.70 303.20v1.20M203.60 428.40v-2.40M203.60 303.20v2.40M197.50 428.40v-1.20M197.50 303.20v1.20M191.40 428.40v-1.20M191.40 303.20v1.20M185.30 428.40v-1.20M185.30 303.20v1.20M179.20 428.40v-2.40M179.20 303.20v2.40M173.10 428.40v-1.20M173.10 303.20v1.20M171.75 425.70h2.40M275.95 425.70h-2.40M171.75 421.59h1.20M275.95 421.59h-1.20M171.75 417.48h1.20M275.95 417.48h-1.20M171.75 413.38h1.20M275.95 413.38h-1.20M171.75 409.27h1.20M275.95 409.27h-1.20M171.75 405.16h2.40M275.95 405.16h-2.40M171.75 401.05h1.20M275.95 401.05h-1.20M171.75 396.94h1.20M275.95 396.94h-1.20M171.75 392.84h1.20M275.95 392.84h-1.20M171.75 388.73h1.20M275.95 388.73h-1.20M171.75 384.62h2.40M275.95 384.62h-2.40M171.75 380.51h1.20M275.95 380.51h-1.20M171.75 376.40h1.20M275.95 376.40h-1.20M171.75 372.30h1.20M275.95 372.30h-1.20M171.75 368.19h1.20M275.95 368.19h-1.20M171.75 364.08h2.40M275.95 364.08h-2.40M171.75 359.97h1.20M275.95 359.97h-1.20M171.75 355.86h1.20M275.95 355.86h-1.20M171.75 351.76h1.20M275.95 351.76h-1.20M171.75 347.65h1.20M275.95 347.65h-1.20M171.75 343.54h2.40M275.95 343.54h-2.40M171.75 339.43h1.20M275.95 339.43h-1.20M171.75 335.32h1.20M275.95 335.32h-1.20M171.75 331.22h1.20M275.95 331.22h-1.20M171.75 327.11h1.20M275.95 327.11h-1.20M171.75 323.00h2.40M275.95 323.00h-2.40M171.75 318.89h1.20M275.95 318.89h-1.20M171.75 314.78h1.20M275.95 314.78h-1.20M171.75 310.68h1.20M275.95 310.68h-1.20M171.75 306.57h1.20M275.95 306.57h-1.20" stroke="#555" stroke-width="0.65" fill="none"/>
<g clip-path="url(#c10)">
<path d="M232.2 300.3L233.8 301.7L235.7 303.0L237.8 304.3L240.4 305.6L242.9 306.6L245.9 307.7L248.8 308.6L252.0 309.4L255.4 310.1L259.1 310.7L262.4 311.1L266.0 311.4L269.5 311.6L272.7 311.6L275.8 311.4L278.7 311.1M278.8 304.1L274.5 303.5L269.8 303.2L264.6 303.2L259.1 303.5L253.7 304.0L248.3 304.8L243.4 305.9L238.7 307.1L234.3 308.6L230.6 310.1L227.4 311.8L224.5 313.6L223.1 314.8L222.1 315.7L221.2 316.7L220.4 317.8L219.8 318.8L219.3 319.8L219.0 320.9L218.8 321.9L218.8 323.0L218.9 324.2L219.2 325.2L219.8 326.4L220.4 327.4L221.2 328.6L222.1 329.5L223.4 330.6L226.0 332.6L229.5 334.4L233.4 336.1L238.0 337.6L243.2 339.0L248.6 339.9L253.9 340.6L259.3 340.9L264.6 340.8L269.1 340.4L271.0 340.0L272.8 339.6L274.3 339.1L275.4 338.5L275.9 338.1L276.3 337.7L276.4 337.3L276.4 336.9L276.3 336.5L276.0 336.1L275.0 335.3L273.5 334.5L271.5 333.9L268.9 333.4L266.0 332.9L262.8 332.6L259.6 332.5L256.2 332.4L252.6 332.5L248.9 332.8L245.4 333.1L238.5 334.1L232.5 335.4L227.2 336.9L222.3 338.7L219.9 339.8L218.0 340.8L216.0 341.9L214.4 343.0L212.9 344.3L211.7 345.5L210.7 346.6L209.9 347.8L209.3 349.0L208.9 350.4L208.8 351.5L208.8 352.7L209.0 353.9L209.5 355.1L210.0 356.2L210.8 357.3L211.8 358.4L212.9 359.6L214.2 360.6L215.7 361.6L219.1 363.5L222.9 365.2L227.5 366.8L232.7 368.1L238.4 369.2L244.1 369.9L249.8 370.2L255.3 370.1L257.8 369.8L260.1 369.5L262.1 369.1L263.7 368.6L265.0 368.0L265.9 367.4L266.2 367.0L266.4 366.6L266.4 366.2L266.3 365.8L265.6 365.0L264.4 364.2L262.7 363.6L260.6 363.0L258.0 362.5L255.0 362.1L252.0 361.9L248.8 361.7L242.0 361.8L235.2 362.4L228.3 363.4L222.7 364.6L217.3 366.1L212.4 367.9L210.0 369.0L208.1 370.0L206.1 371.2L204.5 372.2L203.1 373.4L201.9 374.5L200.9 375.7L200.1 376.9L199.4 378.1L199.0 379.5L198.8 380.5L198.8 381.8L199.0 383.0L199.4 384.2L200.0 385.4L200.7 386.5L201.7 387.7L202.8 388.8L204.1 389.8L205.6 390.9L209.0 392.8L213.1 394.6L217.7 396.1L222.9 397.5L228.6 398.5L234.6 399.2L240.3 399.5L245.7 399.3L248.2 399.1L250.4 398.7L252.3 398.3L254.0 397.8L255.2 397.2L256.1 396.5L256.3 396.1L256.4 395.7L256.4 395.3L256.3 395.0L255.5 394.2L254.3 393.5L252.6 392.8L250.4 392.3L247.8 391.8L244.9 391.4L238.9 391.0L232.2 391.1L225.4 391.7L218.5 392.7L212.8 393.9L207.5 395.4L202.5 397.2L200.2 398.2L198.2 399.2L196.2 400.4L194.6 401.5L193.2 402.6L192.0 403.7L190.9 404.9L190.1 406.1L189.5 407.3L189.0 408.5L188.8 409.6L188.8 410.8L188.9 412.0L189.3 413.2L189.8 414.4L190.5 415.6L191.5 416.7L192.6 417.8L193.9 418.9L195.3 419.9L196.9 420.9L198.8 422.0L203.0 423.8L207.5 425.4L213.1 426.8L218.8 427.8L224.8 428.5L230.4 428.8L233.4 428.7L236.1 428.6L238.5 428.3L240.7 428.0L242.6 427.5L244.2 427.0L245.4 426.4L246.2 425.7L246.4 425.0L246.4 424.4L245.9 423.8L245.1 423.2L243.9 422.6L242.5 422.1L240.7 421.6L238.7 421.2L234.1 420.6L229.1 420.3L223.4 420.4L217.8 420.7L212.5 421.3L207.5 422.1L202.6 423.2L197.9 424.5L193.6 426.0L190.0 427.6L186.5 429.5L183.9 431.3" stroke="#585858" stroke-width="0.85" fill="none"/>
<circle cx="249.32" cy="304.66" r="0.85" fill="#222"/>
<circle cx="239.31" cy="333.95" r="0.85" fill="#222"/>
<circle cx="229.30" cy="363.24" r="0.85" fill="#222"/>
<circle cx="219.30" cy="392.53" r="0.85" fill="#222"/>
<circle cx="209.29" cy="421.82" r="0.85" fill="#222"/>
<path d="M222.12 364.75L197.50 359.50" stroke="#2e2e8e" stroke-width="0.6" fill="none"/>
<path d="M195.25 339.25H242.25M218.75 332.35V346.15M195.25 337.85v2.80M242.25 337.85v2.80M217.35 332.35h2.80M217.35 346.15h2.80" stroke="#c83838" stroke-width="1.20" fill="none"/>
<path d="M171.50 359.50H223.50M197.50 352.00V367.00M171.50 358.10v2.80M223.50 358.10v2.80M196.10 352.00h2.80M196.10 367.00h2.80" stroke="#2e2e8e" stroke-width="1.20" fill="none"/>
</g>
<rect x="171.75" y="303.20" width="104.20" height="125.20" stroke="#a0a0a0" stroke-width="0.80" fill="none"/>
<text x="252.40" y="435.40" font-size="5.70" text-anchor="middle">4.12</text>
<text x="228.00" y="435.40" font-size="5.70" text-anchor="middle">4.14</text>
<text x="203.60" y="435.40" font-size="5.70" text-anchor="middle">4.16</text>
<text x="179.20" y="435.40" font-size="5.70" text-anchor="middle">4.18</text>
<text x="170.15" y="427.75" font-size="5.70" text-anchor="end"><tspan font-weight="bold">−</tspan>5.50</text>
<text x="170.15" y="407.21" font-size="5.70" text-anchor="end"><tspan font-weight="bold">−</tspan>5.45</text>
<text x="170.15" y="386.67" font-size="5.70" text-anchor="end"><tspan font-weight="bold">−</tspan>5.40</text>
<text x="170.15" y="366.13" font-size="5.70" text-anchor="end"><tspan font-weight="bold">−</tspan>5.35</text>
<text x="170.15" y="345.59" font-size="5.70" text-anchor="end"><tspan font-weight="bold">−</tspan>5.30</text>
<text x="170.15" y="325.05" font-size="5.70" text-anchor="end"><tspan font-weight="bold">−</tspan>5.25</text>
<text x="224.15" y="441.80" font-size="6.0" text-anchor="middle">ΔRA (″)</text>
<text x="153.00" y="366.10" font-size="6.0" text-anchor="middle" textLength="20.5" lengthAdjust="spacingAndGlyphs" transform="rotate(-90 153.00 366.10)">ΔDec (″)</text>
<text x="157.70" y="441.80" font-size="6.0" textLength="25.8" lengthAdjust="spacingAndGlyphs">AO Men #8</text>
<text x="285.80" y="304.70" font-size="3.60" fill="#6a6a6a">2008.0</text>
<text x="285.80" y="422.80" font-size="3.60" fill="#6a6a6a">2012.0</text>
<text x="287.65" y="365.90" font-size="3.60" fill="#c83838" font-weight="bold">2009.1</text>
<text x="287.65" y="370.30" font-size="3.60" fill="#2e2e8e" font-weight="bold">2010.0</text>
<path d="M275.95 338.60L279.05 338.60L282.45 364.20L285.25 364.60" stroke="#dc6a6a" stroke-width="0.65" fill="none"/>
<path d="M275.95 363.00L278.45 363.00L282.45 368.60L285.25 368.80" stroke="#6262b4" stroke-width="0.65" fill="none"/>
<clipPath id="c11"><rect x="322.15" y="303.20" width="104.20" height="125.20"/></clipPath>
<path d="M412.70 303.20V428.40M392.40 303.20V428.40M372.10 303.20V428.40M351.80 303.20V428.40M331.50 303.20V428.40M322.15 416.00H426.35M322.15 395.46H426.35M322.15 374.92H426.35M322.15 354.38H426.35M322.15 333.84H426.35M322.15 313.30H426.35" stroke="#e6e6e6" stroke-width="0.75" fill="none"/>
<path d="M422.85 428.40v-1.20M422.85 303.20v1.20M417.77 428.40v-1.20M417.77 303.20v1.20M412.70 428.40v-2.40M412.70 303.20v2.40M407.62 428.40v-1.20M407.62 303.20v1.20M402.55 428.40v-1.20M402.55 303.20v1.20M397.47 428.40v-1.20M397.47 303.20v1.20M392.40 428.40v-2.40M392.40 303.20v2.40M387.33 428.40v-1.20M387.33 303.20v1.20M382.25 428.40v-1.20M382.25 303.20v1.20M377.17 428.40v-1.20M377.17 303.20v1.20M372.10 428.40v-2.40M372.10 303.20v2.40M367.03 428.40v-1.20M367.03 303.20v1.20M361.95 428.40v-1.20M361.95 303.20v1.20M356.88 428.40v-1.20M356.88 303.20v1.20M351.80 428.40v-2.40M351.80 303.20v2.40M346.72 428.40v-1.20M346.72 303.20v1.20M341.65 428.40v-1.20M341.65 303.20v1.20M336.57 428.40v-1.20M336.57 303.20v1.20M331.50 428.40v-2.40M331.50 303.20v2.40M326.43 428.40v-1.20M326.43 303.20v1.20M322.15 428.32h1.20M426.35 428.32h-1.20M322.15 424.22h1.20M426.35 424.22h-1.20M322.15 420.11h1.20M426.35 420.11h-1.20M322.15 416.00h2.40M426.35 416.00h-2.40M322.15 411.89h1.20M426.35 411.89h-1.20M322.15 407.78h1.20M426.35 407.78h-1.20M322.15 403.68h1.20M426.35 403.68h-1.20M322.15 399.57h1.20M426.35 399.57h-1.20M322.15 395.46h2.40M426.35 395.46h-2.40M322.15 391.35h1.20M426.35 391.35h-1.20M322.15 387.24h1.20M426.35 387.24h-1.20M322.15 383.14h1.20M426.35 383.14h-1.20M322.15 379.03h1.20M426.35 379.03h-1.20M322.15 374.92h2.40M426.35 374.92h-2.40M322.15 370.81h1.20M426.35 370.81h-1.20M322.15 366.70h1.20M426.35 366.70h-1.20M322.15 362.60h1.20M426.35 362.60h-1.20M322.15 358.49h1.20M426.35 358.49h-1.20M322.15 354.38h2.40M426.35 354.38h-2.40M322.15 350.27h1.20M426.35 350.27h-1.20M322.15 346.16h1.20M426.35 346.16h-1.20M322.15 342.06h1.20M426.35 342.06h-1.20M322.15 337.95h1.20M426.35 337.95h-1.20M322.15 333.84h2.40M426.35 333.84h-2.40M322.15 329.73h1.20M426.35 329.73h-1.20M322.15 325.62h1.20M426.35 325.62h-1.20M322.15 321.52h1.20M426.35 321.52h-1.20M322.15 317.41h1.20M426.35 317.41h-1.20M322.15 313.30h2.40M426.35 313.30h-2.40M322.15 309.19h1.20M426.35 309.19h-1.20M322.15 305.08h1.20M426.35 305.08h-1.20" stroke="#555" stroke-width="0.65" fill="none"/>
<g clip-path="url(#c11)">
<path d="M389.0 300.3L390.3 301.7L392.0 303.2L393.8 304.4L396.0 305.7L398.4 306.9L400.9 307.9L403.5 308.8L406.3 309.6L409.3 310.4L412.4 310.9L415.5 311.3L418.4 311.5L421.5 311.6L424.3 311.5L426.9 311.3L429.3 310.8M429.2 304.4L425.8 303.7L421.9 303.3L417.7 303.1L413.2 303.3L408.5 303.8L404.0 304.5L399.6 305.5L395.6 306.7L391.8 308.1L388.4 309.7L385.4 311.5L383.0 313.3L380.8 315.4L379.3 317.4L378.3 319.5L378.0 320.5L377.8 321.6L377.8 322.6L377.9 323.9L378.1 324.9L378.5 326.1L378.9 327.1L379.6 328.3L380.5 329.4L381.4 330.5L383.6 332.4L386.5 334.3L389.7 336.0L393.2 337.5L397.6 338.8L402.0 339.8L406.5 340.5L411.0 340.9L415.4 340.8L419.5 340.4L421.1 340.1L422.6 339.6L423.9 339.1L424.8 338.5L425.5 337.8L425.7 337.3L425.8 336.9L425.5 336.1L424.7 335.4L423.4 334.6L421.8 334.0L419.7 333.4L417.3 333.0L414.7 332.7L412.0 332.5L409.2 332.4L406.2 332.5L400.3 333.0L394.5 334.0L389.5 335.3L385.0 336.8L381.0 338.6L377.4 340.6L375.7 341.8L374.3 342.9L373.0 344.1L372.0 345.3L371.2 346.5L370.5 347.7L370.0 348.9L369.6 350.3L369.5 351.3L369.5 352.5L369.7 353.8L370.0 355.0L370.4 356.0L371.0 357.1L371.8 358.3L372.8 359.4L375.0 361.5L377.8 363.4L381.3 365.2L385.1 366.8L389.4 368.1L394.1 369.2L398.8 369.9L403.6 370.2L408.2 370.1L412.0 369.5L413.6 369.1L415.0 368.7L416.1 368.1L417.0 367.4L417.4 366.7L417.5 366.3L417.4 365.9L416.9 365.1L415.9 364.4L414.5 363.6L412.7 363.0L410.6 362.5L408.2 362.1L405.7 361.9L403.0 361.8L397.4 361.8L391.8 362.4L386.0 363.4L381.0 364.6L376.6 366.1L372.5 367.9L369.1 369.8L367.4 371.0L366.1 372.1L364.9 373.2L363.9 374.3L363.0 375.5L362.3 376.7L361.8 377.9L361.3 379.3L361.2 380.4L361.1 381.6L361.3 382.8L361.6 384.0L362.0 385.2L362.7 386.4L363.5 387.5L364.4 388.6L365.4 389.7L366.6 390.7L369.4 392.6L372.8 394.5L376.6 396.0L381.2 397.5L386.0 398.5L390.9 399.2L395.7 399.5L400.2 399.3L402.3 399.1L404.1 398.7L405.7 398.3L407.1 397.8L408.1 397.2L408.8 396.5L409.1 395.7L409.0 395.0L408.4 394.2L407.3 393.5L405.9 392.8L404.1 392.3L402.0 391.8L399.7 391.4L394.8 391.0L389.3 391.1L383.6 391.6L377.8 392.6L372.8 393.9L368.4 395.4L364.3 397.2L360.9 399.1L359.2 400.2L357.9 401.3L356.7 402.4L355.6 403.6L354.7 404.7L354.0 405.9L353.5 407.1L353.1 408.3L352.9 409.4L352.8 410.6L352.9 411.8L353.2 413.0L353.6 414.2L354.2 415.4L355.0 416.6L355.9 417.7L356.9 418.8L358.1 419.8L359.4 420.8L361.0 421.9L364.4 423.7L368.2 425.3L372.8 426.7L377.5 427.8L382.5 428.5L387.5 428.8L389.9 428.7L392.2 428.6L394.2 428.3L396.1 428.0L397.6 427.5L399.0 427.0L399.9 426.4L400.6 425.7L400.8 425.0L400.7 424.4L400.3 423.8L399.7 423.2L398.7 422.6L397.5 422.1L396.1 421.6L394.4 421.2L390.5 420.6L386.3 420.3L381.7 420.4L377.0 420.7L372.5 421.3L368.4 422.1L364.3 423.2L360.5 424.5L356.9 426.0L353.8 427.6L351.0 429.5L348.7 431.3" stroke="#585858" stroke-width="0.85" fill="none"/>
<circle cx="403.20" cy="304.66" r="0.85" fill="#222"/>
<circle cx="394.88" cy="333.95" r="0.85" fill="#222"/>
<circle cx="386.55" cy="363.24" r="0.85" fill="#222"/>
<circle cx="378.22" cy="392.53" r="0.85" fill="#222"/>
<circle cx="369.90" cy="421.82" r="0.85" fill="#222"/>
<path d="M380.57 364.75L345.75 367.00" stroke="#2e2e8e" stroke-width="0.6" fill="none"/>
<path d="M353.60 339.25H402.40M378.00 332.65V345.85M353.60 337.85v2.80M402.40 337.85v2.80M376.60 332.65h2.80M376.60 345.85h2.80" stroke="#c83838" stroke-width="1.20" fill="none"/>
<path d="M321.75 367.00H369.75M345.75 361.10V372.90M321.75 365.60v2.80M369.75 365.60v2.80M344.35 361.10h2.80M344.35 372.90h2.80" stroke="#2e2e8e" stroke-width="1.20" fill="none"/>
</g>
<rect x="322.15" y="303.20" width="104.20" height="125.20" stroke="#a0a0a0" stroke-width="0.80" fill="none"/>
<text x="412.70" y="435.40" font-size="5.70" text-anchor="middle">3.96</text>
<text x="392.40" y="435.40" font-size="5.70" text-anchor="middle">3.98</text>
<text x="372.10" y="435.40" font-size="5.70" text-anchor="middle">4.00</text>
<text x="351.80" y="435.40" font-size="5.70" text-anchor="middle">4.02</text>
<text x="331.50" y="435.40" font-size="5.70" text-anchor="middle">4.04</text>
<text x="320.55" y="418.05" font-size="5.70" text-anchor="end"><tspan font-weight="bold">−</tspan>7.50</text>
<text x="320.55" y="397.51" font-size="5.70" text-anchor="end"><tspan font-weight="bold">−</tspan>7.45</text>
<text x="320.55" y="376.97" font-size="5.70" text-anchor="end"><tspan font-weight="bold">−</tspan>7.40</text>
<text x="320.55" y="356.43" font-size="5.70" text-anchor="end"><tspan font-weight="bold">−</tspan>7.35</text>
<text x="320.55" y="335.89" font-size="5.70" text-anchor="end"><tspan font-weight="bold">−</tspan>7.30</text>
<text x="320.55" y="315.35" font-size="5.70" text-anchor="end"><tspan font-weight="bold">−</tspan>7.25</text>
<text x="374.55" y="441.80" font-size="6.0" text-anchor="middle">ΔRA (″)</text>
<text x="303.40" y="366.10" font-size="6.0" text-anchor="middle" textLength="20.5" lengthAdjust="spacingAndGlyphs" transform="rotate(-90 303.40 366.10)">ΔDec (″)</text>
<text x="308.10" y="441.80" font-size="6.0" textLength="25.8" lengthAdjust="spacingAndGlyphs">AO Men #9</text>
<text x="436.20" y="304.70" font-size="3.60" fill="#6a6a6a">2008.0</text>
<text x="436.20" y="422.80" font-size="3.60" fill="#6a6a6a">2012.0</text>
<text x="438.05" y="365.90" font-size="3.60" fill="#c83838" font-weight="bold">2009.1</text>
<text x="438.05" y="370.30" font-size="3.60" fill="#2e2e8e" font-weight="bold">2010.0</text>
<path d="M426.35 338.60L429.45 338.60L432.85 364.20L435.65 364.60" stroke="#dc6a6a" stroke-width="0.65" fill="none"/>
<path d="M426.35 363.00L428.85 363.00L432.85 368.60L435.65 368.80" stroke="#6262b4" stroke-width="0.65" fill="none"/>
<clipPath id="c12"><rect x="472.55" y="303.20" width="104.20" height="125.20"/></clipPath>
<path d="M574.20 303.20V428.40M549.30 303.20V428.40M524.40 303.20V428.40M499.50 303.20V428.40M474.60 303.20V428.40M472.55 407.17H576.75M472.55 386.63H576.75M472.55 366.10H576.75M472.55 345.57H576.75M472.55 325.03H576.75M472.55 304.50H576.75" stroke="#e6e6e6" stroke-width="0.75" fill="none"/>
<path d="M574.20 428.40v-2.40M574.20 303.20v2.40M567.97 428.40v-1.20M567.97 303.20v1.20M561.75 428.40v-1.20M561.75 303.20v1.20M555.52 428.40v-1.20M555.52 303.20v1.20M549.30 428.40v-2.40M549.30 303.20v2.40M543.07 428.40v-1.20M543.07 303.20v1.20M536.85 428.40v-1.20M536.85 303.20v1.20M530.62 428.40v-1.20M530.62 303.20v1.20M524.40 428.40v-2.40M524.40 303.20v2.40M518.18 428.40v-1.20M518.18 303.20v1.20M511.95 428.40v-1.20M511.95 303.20v1.20M505.73 428.40v-1.20M505.73 303.20v1.20M499.50 428.40v-2.40M499.50 303.20v2.40M493.27 428.40v-1.20M493.27 303.20v1.20M487.05 428.40v-1.20M487.05 303.20v1.20M480.82 428.40v-1.20M480.82 303.20v1.20M474.60 428.40v-2.40M474.60 303.20v2.40M472.55 427.70h2.40M576.75 427.70h-2.40M472.55 423.59h1.20M576.75 423.59h-1.20M472.55 419.49h1.20M576.75 419.49h-1.20M472.55 415.38h1.20M576.75 415.38h-1.20M472.55 411.27h1.20M576.75 411.27h-1.20M472.55 407.17h2.40M576.75 407.17h-2.40M472.55 403.06h1.20M576.75 403.06h-1.20M472.55 398.95h1.20M576.75 398.95h-1.20M472.55 394.85h1.20M576.75 394.85h-1.20M472.55 390.74h1.20M576.75 390.74h-1.20M472.55 386.63h2.40M576.75 386.63h-2.40M472.55 382.53h1.20M576.75 382.53h-1.20M472.55 378.42h1.20M576.75 378.42h-1.20M472.55 374.31h1.20M576.75 374.31h-1.20M472.55 370.21h1.20M576.75 370.21h-1.20M472.55 366.10h2.40M576.75 366.10h-2.40M472.55 361.99h1.20M576.75 361.99h-1.20M472.55 357.89h1.20M576.75 357.89h-1.20M472.55 353.78h1.20M576.75 353.78h-1.20M472.55 349.67h1.20M576.75 349.67h-1.20M472.55 345.57h2.40M576.75 345.57h-2.40M472.55 341.46h1.20M576.75 341.46h-1.20M472.55 337.35h1.20M576.75 337.35h-1.20M472.55 333.25h1.20M576.75 333.25h-1.20M472.55 329.14h1.20M576.75 329.14h-1.20M472.55 325.03h2.40M576.75 325.03h-2.40M472.55 320.93h1.20M576.75 320.93h-1.20M472.55 316.82h1.20M576.75 316.82h-1.20M472.55 312.71h1.20M576.75 312.71h-1.20M472.55 308.61h1.20M576.75 308.61h-1.20M472.55 304.50h2.40M576.75 304.50h-2.40" stroke="#555" stroke-width="0.65" fill="none"/>
<g clip-path="url(#c12)">
<path d="M531.5 300.3L533.1 301.7L535.0 303.1L537.2 304.3L539.8 305.6L542.4 306.7L545.5 307.7L548.7 308.7L552.1 309.5L555.5 310.2L559.2 310.8L563.0 311.2L566.6 311.5L570.2 311.6L573.7 311.6L576.8 311.4L579.7 311.0M579.7 304.2L575.5 303.6L570.9 303.2L565.7 303.2L560.1 303.4L554.6 303.9L549.1 304.6L543.7 305.7L538.9 306.9L534.3 308.4L530.5 309.9L526.8 311.7L523.9 313.5L522.4 314.6L521.3 315.6L520.4 316.6L519.6 317.6L518.9 318.6L518.4 319.7L518.0 320.7L517.8 321.8L517.8 322.8L517.9 324.0L518.2 325.1L518.7 326.3L519.3 327.3L520.2 328.4L521.1 329.4L522.3 330.5L525.0 332.4L528.4 334.3L532.4 336.0L537.1 337.6L542.4 338.9L547.9 339.9L553.3 340.5L558.9 340.9L564.3 340.8L569.1 340.4L571.1 340.0L573.0 339.6L574.5 339.1L575.6 338.5L576.1 338.1L576.5 337.7L576.6 337.3L576.6 336.9L576.5 336.5L576.2 336.1L575.2 335.3L573.6 334.5L571.6 333.9L568.9 333.4L566.0 332.9L563.0 332.7L559.8 332.5L556.3 332.4L552.7 332.5L548.9 332.7L545.4 333.1L538.3 334.0L532.2 335.3L526.7 336.8L521.7 338.6L519.2 339.6L517.3 340.6L515.2 341.8L513.6 342.9L511.9 344.1L510.7 345.3L509.7 346.5L508.8 347.7L508.2 348.9L507.8 350.3L507.6 351.3L507.6 352.5L507.8 353.8L508.2 355.0L508.7 356.0L509.5 357.1L510.5 358.3L511.6 359.4L513.0 360.5L514.4 361.5L517.8 363.4L522.0 365.2L526.7 366.8L532.0 368.1L537.8 369.2L543.6 369.9L549.5 370.2L555.0 370.0L557.6 369.8L560.0 369.5L562.0 369.1L563.6 368.6L564.9 368.0L565.9 367.4L566.2 367.0L566.4 366.6L566.4 366.2L566.3 365.8L565.6 365.0L564.5 364.3L562.8 363.6L560.7 363.0L558.1 362.5L555.1 362.1L552.0 361.9L548.7 361.7L541.9 361.8L535.0 362.4L527.9 363.3L521.7 364.6L516.3 366.1L511.3 367.9L507.2 369.8L505.1 371.0L503.5 372.1L502.0 373.2L500.7 374.3L499.7 375.5L498.8 376.7L498.1 377.9L497.6 379.3L497.4 380.3L497.4 381.6L497.5 382.8L497.9 384.0L498.5 385.2L499.3 386.4L500.2 387.5L501.3 388.6L502.7 389.7L504.1 390.7L507.5 392.6L511.7 394.5L516.4 396.0L522.0 397.5L527.8 398.5L533.9 399.2L539.7 399.5L545.2 399.3L547.8 399.1L550.1 398.7L552.0 398.3L553.8 397.7L555.0 397.2L555.9 396.5L556.1 396.1L556.2 395.7L556.2 395.3L556.1 395.0L555.3 394.2L554.0 393.5L552.3 392.8L550.1 392.2L547.5 391.8L544.4 391.4L538.3 391.0L531.5 391.1L524.5 391.7L517.5 392.7L511.7 393.9L506.2 395.4L501.2 397.1L498.8 398.2L496.8 399.2L494.8 400.4L493.1 401.4L491.7 402.6L490.4 403.7L489.4 404.9L488.5 406.1L487.9 407.3L487.4 408.5L487.2 409.5L487.2 410.8L487.3 412.0L487.7 413.2L488.2 414.4L489.0 415.6L489.9 416.7L491.1 417.8L492.4 418.9L493.8 419.9L495.4 420.9L497.5 422.0L501.7 423.8L506.3 425.4L512.0 426.8L517.8 427.8L523.9 428.5L529.7 428.7L532.7 428.7L535.5 428.5L538.0 428.3L540.2 427.9L542.1 427.5L543.8 426.9L544.9 426.3L545.7 425.7L546.0 425.0L545.9 424.4L545.4 423.7L544.6 423.1L543.5 422.6L542.0 422.1L540.2 421.6L538.1 421.2L533.4 420.6L528.3 420.3L522.6 420.3L516.8 420.7L511.4 421.3L506.3 422.1L501.3 423.2L496.5 424.5L492.1 426.0L488.4 427.6L484.9 429.4L482.2 431.3" stroke="#585858" stroke-width="0.85" fill="none"/>
<circle cx="548.96" cy="304.67" r="0.85" fill="#222"/>
<circle cx="538.75" cy="333.95" r="0.85" fill="#222"/>
<circle cx="528.54" cy="363.23" r="0.85" fill="#222"/>
<circle cx="518.32" cy="392.52" r="0.85" fill="#222"/>
<circle cx="508.11" cy="421.80" r="0.85" fill="#222"/>
<path d="M521.20 364.75L483.25 379.25" stroke="#2e2e8e" stroke-width="0.6" fill="none"/>
<path d="M507.40 339.25H528.60M518.00 324.65V353.85M507.40 337.85v2.80M528.60 337.85v2.80M516.60 324.65h2.80M516.60 353.85h2.80" stroke="#c83838" stroke-width="1.20" fill="none"/>
<path d="M472.00 379.25H494.50M483.25 365.50V393.00M472.00 377.85v2.80M494.50 377.85v2.80M481.85 365.50h2.80M481.85 393.00h2.80" stroke="#2e2e8e" stroke-width="1.20" fill="none"/>
</g>
<rect x="472.55" y="303.20" width="104.20" height="125.20" stroke="#a0a0a0" stroke-width="0.80" fill="none"/>
<text x="574.20" y="435.40" font-size="5.70" text-anchor="middle"><tspan font-weight="bold">−</tspan>9.80</text>
<text x="549.30" y="435.40" font-size="5.70" text-anchor="middle"><tspan font-weight="bold">−</tspan>9.78</text>
<text x="524.40" y="435.40" font-size="5.70" text-anchor="middle"><tspan font-weight="bold">−</tspan>9.76</text>
<text x="499.50" y="435.40" font-size="5.70" text-anchor="middle"><tspan font-weight="bold">−</tspan>9.74</text>
<text x="474.60" y="435.40" font-size="5.70" text-anchor="middle"><tspan font-weight="bold">−</tspan>9.72</text>
<text x="470.95" y="429.75" font-size="5.70" text-anchor="end"><tspan font-weight="bold">−</tspan>0.60</text>
<text x="470.95" y="409.22" font-size="5.70" text-anchor="end"><tspan font-weight="bold">−</tspan>0.55</text>
<text x="470.95" y="388.68" font-size="5.70" text-anchor="end"><tspan font-weight="bold">−</tspan>0.50</text>
<text x="470.95" y="368.15" font-size="5.70" text-anchor="end"><tspan font-weight="bold">−</tspan>0.45</text>
<text x="470.95" y="347.62" font-size="5.70" text-anchor="end"><tspan font-weight="bold">−</tspan>0.40</text>
<text x="470.95" y="327.08" font-size="5.70" text-anchor="end"><tspan font-weight="bold">−</tspan>0.35</text>
<text x="470.95" y="306.55" font-size="5.70" text-anchor="end"><tspan font-weight="bold">−</tspan>0.30</text>
<text x="524.95" y="441.80" font-size="6.0" text-anchor="middle">ΔRA (″)</text>
<text x="453.80" y="366.10" font-size="6.0" text-anchor="middle" textLength="20.5" lengthAdjust="spacingAndGlyphs" transform="rotate(-90 453.80 366.10)">ΔDec (″)</text>
<text x="458.50" y="441.80" font-size="6.0" textLength="29.3" lengthAdjust="spacingAndGlyphs">AO Men #10</text>
<text x="586.60" y="304.70" font-size="3.60" fill="#6a6a6a">2008.0</text>
<text x="586.60" y="422.80" font-size="3.60" fill="#6a6a6a">2012.0</text>
<text x="588.45" y="365.90" font-size="3.60" fill="#c83838" font-weight="bold">2009.1</text>
<text x="588.45" y="370.30" font-size="3.60" fill="#2e2e8e" font-weight="bold">2010.0</text>
<path d="M576.75 338.60L579.85 338.60L583.25 364.20L586.05 364.60" stroke="#dc6a6a" stroke-width="0.65" fill="none"/>
<path d="M576.75 363.00L579.25 363.00L583.25 368.60L586.05 368.80" stroke="#6262b4" stroke-width="0.65" fill="none"/>
<clipPath id="c13"><rect x="21.35" y="454.70" width="104.10" height="125.40"/></clipPath>
<path d="M120.60 454.70V580.10M105.78 454.70V580.10M90.97 454.70V580.10M76.15 454.70V580.10M61.33 454.70V580.10M46.52 454.70V580.10M31.70 454.70V580.10M21.35 563.00H125.45M21.35 540.25H125.45M21.35 517.50H125.45M21.35 494.75H125.45M21.35 472.00H125.45" stroke="#e6e6e6" stroke-width="0.75" fill="none"/>
<path d="M124.30 580.10v-1.20M124.30 454.70v1.20M120.60 580.10v-2.40M120.60 454.70v2.40M116.90 580.10v-1.20M116.90 454.70v1.20M113.19 580.10v-1.20M113.19 454.70v1.20M109.49 580.10v-1.20M109.49 454.70v1.20M105.78 580.10v-2.40M105.78 454.70v2.40M102.08 580.10v-1.20M102.08 454.70v1.20M98.37 580.10v-1.20M98.37 454.70v1.20M94.67 580.10v-1.20M94.67 454.70v1.20M90.97 580.10v-2.40M90.97 454.70v2.40M87.26 580.10v-1.20M87.26 454.70v1.20M83.56 580.10v-1.20M83.56 454.70v1.20M79.85 580.10v-1.20M79.85 454.70v1.20M76.15 580.10v-2.40M76.15 454.70v2.40M72.45 580.10v-1.20M72.45 454.70v1.20M68.74 580.10v-1.20M68.74 454.70v1.20M65.04 580.10v-1.20M65.04 454.70v1.20M61.33 580.10v-2.40M61.33 454.70v2.40M57.63 580.10v-1.20M57.63 454.70v1.20M53.92 580.10v-1.20M53.92 454.70v1.20M50.22 580.10v-1.20M50.22 454.70v1.20M46.52 580.10v-2.40M46.52 454.70v2.40M42.81 580.10v-1.20M42.81 454.70v1.20M39.11 580.10v-1.20M39.11 454.70v1.20M35.40 580.10v-1.20M35.40 454.70v1.20M31.70 580.10v-2.40M31.70 454.70v2.40M28.00 580.10v-1.20M28.00 454.70v1.20M24.29 580.10v-1.20M24.29 454.70v1.20M21.35 578.92h1.20M125.45 578.92h-1.20M21.35 576.65h1.20M125.45 576.65h-1.20M21.35 574.38h1.20M125.45 574.38h-1.20M21.35 572.10h1.20M125.45 572.10h-1.20M21.35 569.82h1.20M125.45 569.82h-1.20M21.35 567.55h1.20M125.45 567.55h-1.20M21.35 565.27h1.20M125.45 565.27h-1.20M21.35 563.00h2.40M125.45 563.00h-2.40M21.35 560.72h1.20M125.45 560.72h-1.20M21.35 558.45h1.20M125.45 558.45h-1.20M21.35 556.17h1.20M125.45 556.17h-1.20M21.35 553.90h1.20M125.45 553.90h-1.20M21.35 551.62h1.20M125.45 551.62h-1.20M21.35 549.35h1.20M125.45 549.35h-1.20M21.35 547.07h1.20M125.45 547.07h-1.20M21.35 544.80h1.20M125.45 544.80h-1.20M21.35 542.52h1.20M125.45 542.52h-1.20M21.35 540.25h2.40M125.45 540.25h-2.40M21.35 537.97h1.20M125.45 537.97h-1.20M21.35 535.70h1.20M125.45 535.70h-1.20M21.35 533.42h1.20M125.45 533.42h-1.20M21.35 531.15h1.20M125.45 531.15h-1.20M21.35 528.88h1.20M125.45 528.88h-1.20M21.35 526.60h1.20M125.45 526.60h-1.20M21.35 524.33h1.20M125.45 524.33h-1.20M21.35 522.05h1.20M125.45 522.05h-1.20M21.35 519.78h1.20M125.45 519.78h-1.20M21.35 517.50h2.40M125.45 517.50h-2.40M21.35 515.23h1.20M125.45 515.23h-1.20M21.35 512.95h1.20M125.45 512.95h-1.20M21.35 510.68h1.20M125.45 510.68h-1.20M21.35 508.40h1.20M125.45 508.40h-1.20M21.35 506.13h1.20M125.45 506.13h-1.20M21.35 503.85h1.20M125.45 503.85h-1.20M21.35 501.58h1.20M125.45 501.58h-1.20M21.35 499.30h1.20M125.45 499.30h-1.20M21.35 497.03h1.20M125.45 497.03h-1.20M21.35 494.75h2.40M125.45 494.75h-2.40M21.35 492.48h1.20M125.45 492.48h-1.20M21.35 490.20h1.20M125.45 490.20h-1.20M21.35 487.93h1.20M125.45 487.93h-1.20M21.35 485.65h1.20M125.45 485.65h-1.20M21.35 483.38h1.20M125.45 483.38h-1.20M21.35 481.10h1.20M125.45 481.10h-1.20M21.35 478.83h1.20M125.45 478.83h-1.20M21.35 476.55h1.20M125.45 476.55h-1.20M21.35 474.28h1.20M125.45 474.28h-1.20M21.35 472.00h2.40M125.45 472.00h-2.40M21.35 469.73h1.20M125.45 469.73h-1.20M21.35 467.45h1.20M125.45 467.45h-1.20M21.35 465.18h1.20M125.45 465.18h-1.20M21.35 462.90h1.20M125.45 462.90h-1.20M21.35 460.63h1.20M125.45 460.63h-1.20M21.35 458.35h1.20M125.45 458.35h-1.20M21.35 456.08h1.20M125.45 456.08h-1.20" stroke="#555" stroke-width="0.65" fill="none"/>
<g clip-path="url(#c13)">
<path d="M99.8 583.1L103.5 582.3L106.9 581.5L110.0 580.6L113.0 579.6L115.6 578.6L118.0 577.5L120.1 576.3L121.8 575.2L123.2 574.0L124.3 572.8L125.0 571.6L125.3 570.4L125.4 569.1L125.0 568.0L124.4 566.9L123.4 565.6L122.0 564.4L120.2 563.3L118.2 562.2L115.7 561.0L113.1 560.0L110.1 559.1L106.8 558.1L103.2 557.3L95.4 555.8L86.9 554.6L78.0 553.9L73.8 553.7L70.0 553.7L74.2 553.3L78.7 552.7L83.3 551.9L87.6 551.0L91.6 550.0L95.3 548.9L98.7 547.7L101.5 546.5L104.0 545.2L106.0 543.8L107.6 542.5L108.7 541.0L109.3 539.6L109.5 538.2L109.1 536.8L108.3 535.4L107.2 534.2L105.6 532.9L103.7 531.6L101.3 530.5L98.7 529.4L95.8 528.3L92.4 527.3L88.8 526.4L84.9 525.5L80.8 524.7L76.6 524.1L71.9 523.5L67.4 523.0L62.7 522.7L58.2 522.4L54.1 522.4L58.2 522.0L62.8 521.4L67.1 520.7L71.5 519.8L75.5 518.8L79.2 517.7L82.5 516.5L85.4 515.3L88.0 514.0L90.0 512.7L91.6 511.3L92.6 510.0L93.3 508.5L93.5 507.2L93.3 505.8L92.6 504.4L91.6 503.2L90.1 501.9L88.2 500.7L86.0 499.5L83.4 498.3L80.3 497.2L77.0 496.2L73.4 495.2L69.5 494.4L65.2 493.5L60.9 492.9L56.2 492.2L51.4 491.8L46.8 491.4L42.2 491.2L38.2 491.1L42.3 490.8L46.7 490.2L51.0 489.5L55.3 488.6L59.3 487.6L62.8 486.6L66.2 485.4L69.1 484.2L71.7 482.9L73.8 481.6L75.4 480.2L76.6 478.9L77.3 477.5L77.6 476.1L77.4 474.7L76.8 473.4L75.8 472.1L74.3 470.8L72.4 469.5L70.2 468.3L67.7 467.2L64.6 466.0L61.3 465.0L57.8 464.0L53.8 463.1L49.5 462.3L45.0 461.6L40.3 461.0L35.5 460.5L30.8 460.1L26.3 459.9L22.3 459.9L26.9 459.5L31.8 458.8L36.8 457.9L41.4 456.9L45.6 455.7L49.5 454.5L52.8 453.1L55.6 451.7" stroke="#585858" stroke-width="0.85" fill="none"/>
<circle cx="112.75" cy="579.67" r="0.85" fill="#222"/>
<circle cx="96.83" cy="548.41" r="0.85" fill="#222"/>
<circle cx="80.90" cy="517.15" r="0.85" fill="#222"/>
<circle cx="64.98" cy="485.89" r="0.85" fill="#222"/>
<circle cx="49.05" cy="454.63" r="0.85" fill="#222"/>
<path d="M90.23 502.01L107.50 504.30" stroke="#2e2e8e" stroke-width="0.6" fill="none"/>
<path d="M98.20 533.00H113.40M105.80 530.40V535.60M98.20 531.60v2.80M113.40 531.60v2.80M104.40 530.40h2.80M104.40 535.60h2.80" stroke="#c83838" stroke-width="1.20" fill="none"/>
<path d="M100.40 504.30H114.60M107.50 502.10V506.50M100.40 502.90v2.80M114.60 502.90v2.80M106.10 502.10h2.80M106.10 506.50h2.80" stroke="#2e2e8e" stroke-width="1.20" fill="none"/>
</g>
<rect x="21.35" y="454.70" width="104.10" height="125.40" stroke="#a0a0a0" stroke-width="0.80" fill="none"/>
<text x="120.60" y="587.65" font-size="5.70" text-anchor="middle">0.70</text>
<text x="105.78" y="587.65" font-size="5.70" text-anchor="middle">0.72</text>
<text x="90.97" y="587.65" font-size="5.70" text-anchor="middle">0.74</text>
<text x="76.15" y="587.65" font-size="5.70" text-anchor="middle">0.76</text>
<text x="61.33" y="587.65" font-size="5.70" text-anchor="middle">0.78</text>
<text x="46.52" y="587.65" font-size="5.70" text-anchor="middle">0.80</text>
<text x="31.70" y="587.65" font-size="5.70" text-anchor="middle">0.82</text>
<text x="19.75" y="565.05" font-size="5.70" text-anchor="end"><tspan font-weight="bold">−</tspan>2.7</text>
<text x="19.75" y="542.30" font-size="5.70" text-anchor="end"><tspan font-weight="bold">−</tspan>2.6</text>
<text x="19.75" y="519.55" font-size="5.70" text-anchor="end"><tspan font-weight="bold">−</tspan>2.5</text>
<text x="19.75" y="496.80" font-size="5.70" text-anchor="end"><tspan font-weight="bold">−</tspan>2.4</text>
<text x="19.75" y="474.05" font-size="5.70" text-anchor="end"><tspan font-weight="bold">−</tspan>2.3</text>
<text x="73.35" y="593.90" font-size="6.0" text-anchor="middle">ΔRA (″)</text>
<text x="5.85" y="517.50" font-size="6.0" text-anchor="middle" textLength="20.5" lengthAdjust="spacingAndGlyphs" transform="rotate(-90 5.85 517.50)">ΔDec (″)</text>
<text x="7.50" y="593.90" font-size="6.0" textLength="40.5" lengthAdjust="spacingAndGlyphs">HD 155555 C #1</text>
<text x="136.05" y="456.30" font-size="3.60" fill="#6a6a6a">2012.0</text>
<text x="136.05" y="580.60" font-size="3.60" fill="#6a6a6a">2008.0</text>
<text x="137.05" y="517.20" font-size="3.60" fill="#2e2e8e" font-weight="bold">2010.3</text>
<text x="137.05" y="521.90" font-size="3.60" fill="#c83838" font-weight="bold">2009.3</text>
<path d="M125.45 501.25L128.45 501.25L133.45 516.25L135.45 516.00" stroke="#6262b4" stroke-width="0.65" fill="none"/>
<path d="M125.45 533.25L128.45 533.25L132.25 521.00L135.45 520.60" stroke="#dc6a6a" stroke-width="0.65" fill="none"/>
<clipPath id="c14"><rect x="171.75" y="454.70" width="104.10" height="125.40"/></clipPath>
<path d="M268.10 454.70V580.10M253.32 454.70V580.10M238.53 454.70V580.10M223.75 454.70V580.10M208.97 454.70V580.10M194.18 454.70V580.10M179.40 454.70V580.10M171.75 564.30H275.85M171.75 541.35H275.85M171.75 518.40H275.85M171.75 495.45H275.85M171.75 472.50H275.85" stroke="#e6e6e6" stroke-width="0.75" fill="none"/>
<path d="M275.49 580.10v-1.20M275.49 454.70v1.20M271.80 580.10v-1.20M271.80 454.70v1.20M268.10 580.10v-2.40M268.10 454.70v2.40M264.40 580.10v-1.20M264.40 454.70v1.20M260.71 580.10v-1.20M260.71 454.70v1.20M257.01 580.10v-1.20M257.01 454.70v1.20M253.32 580.10v-2.40M253.32 454.70v2.40M249.62 580.10v-1.20M249.62 454.70v1.20M245.93 580.10v-1.20M245.93 454.70v1.20M242.23 580.10v-1.20M242.23 454.70v1.20M238.53 580.10v-2.40M238.53 454.70v2.40M234.84 580.10v-1.20M234.84 454.70v1.20M231.14 580.10v-1.20M231.14 454.70v1.20M227.45 580.10v-1.20M227.45 454.70v1.20M223.75 580.10v-2.40M223.75 454.70v2.40M220.05 580.10v-1.20M220.05 454.70v1.20M216.36 580.10v-1.20M216.36 454.70v1.20M212.66 580.10v-1.20M212.66 454.70v1.20M208.97 580.10v-2.40M208.97 454.70v2.40M205.27 580.10v-1.20M205.27 454.70v1.20M201.58 580.10v-1.20M201.58 454.70v1.20M197.88 580.10v-1.20M197.88 454.70v1.20M194.18 580.10v-2.40M194.18 454.70v2.40M190.49 580.10v-1.20M190.49 454.70v1.20M186.79 580.10v-1.20M186.79 454.70v1.20M183.10 580.10v-1.20M183.10 454.70v1.20M179.40 580.10v-2.40M179.40 454.70v2.40M175.70 580.10v-1.20M175.70 454.70v1.20M172.01 580.10v-1.20M172.01 454.70v1.20M171.75 578.07h1.20M275.85 578.07h-1.20M171.75 575.77h1.20M275.85 575.77h-1.20M171.75 573.48h1.20M275.85 573.48h-1.20M171.75 571.19h1.20M275.85 571.19h-1.20M171.75 568.89h1.20M275.85 568.89h-1.20M171.75 566.59h1.20M275.85 566.59h-1.20M171.75 564.30h2.40M275.85 564.30h-2.40M171.75 562.00h1.20M275.85 562.00h-1.20M171.75 559.71h1.20M275.85 559.71h-1.20M171.75 557.41h1.20M275.85 557.41h-1.20M171.75 555.12h1.20M275.85 555.12h-1.20M171.75 552.83h1.20M275.85 552.83h-1.20M171.75 550.53h1.20M275.85 550.53h-1.20M171.75 548.23h1.20M275.85 548.23h-1.20M171.75 545.94h1.20M275.85 545.94h-1.20M171.75 543.64h1.20M275.85 543.64h-1.20M171.75 541.35h2.40M275.85 541.35h-2.40M171.75 539.05h1.20M275.85 539.05h-1.20M171.75 536.76h1.20M275.85 536.76h-1.20M171.75 534.46h1.20M275.85 534.46h-1.20M171.75 532.17h1.20M275.85 532.17h-1.20M171.75 529.87h1.20M275.85 529.87h-1.20M171.75 527.58h1.20M275.85 527.58h-1.20M171.75 525.28h1.20M275.85 525.28h-1.20M171.75 522.99h1.20M275.85 522.99h-1.20M171.75 520.70h1.20M275.85 520.70h-1.20M171.75 518.40h2.40M275.85 518.40h-2.40M171.75 516.10h1.20M275.85 516.10h-1.20M171.75 513.81h1.20M275.85 513.81h-1.20M171.75 511.51h1.20M275.85 511.51h-1.20M171.75 509.22h1.20M275.85 509.22h-1.20M171.75 506.92h1.20M275.85 506.92h-1.20M171.75 504.63h1.20M275.85 504.63h-1.20M171.75 502.33h1.20M275.85 502.33h-1.20M171.75 500.04h1.20M275.85 500.04h-1.20M171.75 497.74h1.20M275.85 497.74h-1.20M171.75 495.45h2.40M275.85 495.45h-2.40M171.75 493.15h1.20M275.85 493.15h-1.20M171.75 490.86h1.20M275.85 490.86h-1.20M171.75 488.56h1.20M275.85 488.56h-1.20M171.75 486.27h1.20M275.85 486.27h-1.20M171.75 483.97h1.20M275.85 483.97h-1.20M171.75 481.68h1.20M275.85 481.68h-1.20M171.75 479.38h1.20M275.85 479.38h-1.20M171.75 477.09h1.20M275.85 477.09h-1.20M171.75 474.79h1.20M275.85 474.79h-1.20M171.75 472.50h2.40M275.85 472.50h-2.40M171.75 470.20h1.20M275.85 470.20h-1.20M171.75 467.91h1.20M275.85 467.91h-1.20M171.75 465.61h1.20M275.85 465.61h-1.20M171.75 463.32h1.20M275.85 463.32h-1.20M171.75 461.02h1.20M275.85 461.02h-1.20M171.75 458.73h1.20M275.85 458.73h-1.20M171.75 456.43h1.20M275.85 456.43h-1.20" stroke="#555" stroke-width="0.65" fill="none"/>
<g clip-path="url(#c14)">
<path d="M255.0 583.1L261.0 581.3L263.7 580.4L266.0 579.4L268.1 578.3L270.0 577.2L271.7 576.1L272.9 575.0L273.8 573.9L274.5 572.7L274.8 571.6L274.8 570.4L274.5 569.2L273.9 568.1L273.0 566.9L271.8 565.8L270.3 564.7L268.4 563.6L266.2 562.5L263.7 561.5L261.0 560.6L258.1 559.7L251.4 558.0L243.9 556.6L235.7 555.6L227.2 554.9L219.6 554.7L224.0 554.3L228.6 553.6L233.2 552.8L237.6 551.9L241.6 550.9L245.3 549.7L248.6 548.5L251.6 547.2L254.0 545.8L256.0 544.4L257.4 542.9L258.4 541.5L258.7 540.8L258.9 540.0L258.9 539.3L258.9 538.5L258.4 537.2L257.4 535.7L256.1 534.5L254.4 533.2L252.5 532.1L250.1 530.9L247.3 529.8L244.4 528.8L241.2 527.9L237.6 526.9L233.6 526.1L229.6 525.4L221.0 524.2L216.5 523.7L211.9 523.4L207.6 523.2L203.7 523.1L207.8 522.8L212.3 522.2L216.9 521.4L221.2 520.5L225.2 519.5L229.0 518.3L232.3 517.1L235.1 515.9L237.7 514.5L239.6 513.2L241.2 511.8L242.3 510.4L242.9 508.9L243.0 507.5L242.7 506.2L241.9 504.7L240.8 503.5L239.2 502.2L237.3 500.9L234.9 499.7L232.3 498.6L229.4 497.6L226.0 496.5L222.5 495.6L218.5 494.7L214.5 494.0L210.2 493.3L205.6 492.7L201.0 492.2L196.4 491.9L191.9 491.6L187.8 491.6L191.9 491.2L196.5 490.6L200.8 489.9L205.1 489.0L209.1 488.0L212.9 486.9L216.2 485.7L219.1 484.4L221.6 483.1L223.6 481.8L225.2 480.4L226.3 479.1L227.0 477.6L227.2 476.2L226.9 474.8L226.2 473.5L225.2 472.2L223.7 470.9L221.9 469.7L219.6 468.5L217.1 467.3L214.0 466.2L210.6 465.1L207.1 464.2L203.1 463.3L198.9 462.5L194.6 461.8L190.0 461.2L185.1 460.7L180.5 460.3L176.0 460.1L171.9 460.1L176.6 459.6L181.5 458.9L186.4 458.1L191.0 457.0L195.2 455.9L199.1 454.6L202.4 453.3L205.4 451.8" stroke="#585858" stroke-width="0.85" fill="none"/>
<circle cx="262.23" cy="580.90" r="0.85" fill="#222"/>
<circle cx="246.34" cy="549.36" r="0.85" fill="#222"/>
<circle cx="230.45" cy="517.83" r="0.85" fill="#222"/>
<circle cx="214.56" cy="486.30" r="0.85" fill="#222"/>
<circle cx="198.67" cy="454.76" r="0.85" fill="#222"/>
<path d="M239.76 502.56L241.50 500.30" stroke="#2e2e8e" stroke-width="0.6" fill="none"/>
<path d="M242.60 532.80H269.60M256.10 530.10V535.50M242.60 531.40v2.80M269.60 531.40v2.80M254.70 530.10h2.80M254.70 535.50h2.80" stroke="#c83838" stroke-width="1.20" fill="none"/>
<path d="M230.70 500.30H252.30M241.50 497.60V503.00M230.70 498.90v2.80M252.30 498.90v2.80M240.10 497.60h2.80M240.10 503.00h2.80" stroke="#2e2e8e" stroke-width="1.20" fill="none"/>
</g>
<rect x="171.75" y="454.70" width="104.10" height="125.40" stroke="#a0a0a0" stroke-width="0.80" fill="none"/>
<text x="268.10" y="587.65" font-size="5.70" text-anchor="middle"><tspan font-weight="bold">−</tspan>1.92</text>
<text x="253.32" y="587.65" font-size="5.70" text-anchor="middle"><tspan font-weight="bold">−</tspan>1.90</text>
<text x="238.53" y="587.65" font-size="5.70" text-anchor="middle"><tspan font-weight="bold">−</tspan>1.88</text>
<text x="223.75" y="587.65" font-size="5.70" text-anchor="middle"><tspan font-weight="bold">−</tspan>1.86</text>
<text x="208.97" y="587.65" font-size="5.70" text-anchor="middle"><tspan font-weight="bold">−</tspan>1.84</text>
<text x="194.18" y="587.65" font-size="5.70" text-anchor="middle"><tspan font-weight="bold">−</tspan>1.82</text>
<text x="179.40" y="587.65" font-size="5.70" text-anchor="middle"><tspan font-weight="bold">−</tspan>1.80</text>
<text x="170.15" y="566.35" font-size="5.70" text-anchor="end">4.2</text>
<text x="170.15" y="543.40" font-size="5.70" text-anchor="end">4.3</text>
<text x="170.15" y="520.45" font-size="5.70" text-anchor="end">4.4</text>
<text x="170.15" y="497.50" font-size="5.70" text-anchor="end">4.5</text>
<text x="170.15" y="474.55" font-size="5.70" text-anchor="end">4.6</text>
<text x="223.75" y="593.90" font-size="6.0" text-anchor="middle">ΔRA (″)</text>
<text x="160.00" y="517.50" font-size="6.0" text-anchor="middle" textLength="20.5" lengthAdjust="spacingAndGlyphs" transform="rotate(-90 160.00 517.50)">ΔDec (″)</text>
<text x="157.90" y="593.90" font-size="6.0" textLength="40.5" lengthAdjust="spacingAndGlyphs">HD 155555 C #2</text>
<text x="286.45" y="456.30" font-size="3.60" fill="#6a6a6a">2012.0</text>
<text x="286.45" y="580.60" font-size="3.60" fill="#6a6a6a">2008.0</text>
<text x="287.45" y="517.20" font-size="3.60" fill="#2e2e8e" font-weight="bold">2010.3</text>
<text x="287.45" y="521.90" font-size="3.60" fill="#c83838" font-weight="bold">2009.3</text>
<path d="M275.85 501.25L278.85 501.25L283.85 516.25L285.85 516.00" stroke="#6262b4" stroke-width="0.65" fill="none"/>
<path d="M275.85 533.25L278.85 533.25L282.65 521.00L285.85 520.60" stroke="#dc6a6a" stroke-width="0.65" fill="none"/>
<clipPath id="c15"><rect x="322.15" y="454.70" width="104.10" height="125.40"/></clipPath>
<path d="M416.10 454.70V580.10M401.28 454.70V580.10M386.47 454.70V580.10M371.65 454.70V580.10M356.83 454.70V580.10M342.02 454.70V580.10M327.20 454.70V580.10M322.15 574.55H426.25M322.15 551.80H426.25M322.15 529.05H426.25M322.15 506.30H426.25M322.15 483.55H426.25M322.15 460.80H426.25" stroke="#e6e6e6" stroke-width="0.75" fill="none"/>
<path d="M423.51 580.10v-1.20M423.51 454.70v1.20M419.80 580.10v-1.20M419.80 454.70v1.20M416.10 580.10v-2.40M416.10 454.70v2.40M412.40 580.10v-1.20M412.40 454.70v1.20M408.69 580.10v-1.20M408.69 454.70v1.20M404.99 580.10v-1.20M404.99 454.70v1.20M401.28 580.10v-2.40M401.28 454.70v2.40M397.58 580.10v-1.20M397.58 454.70v1.20M393.87 580.10v-1.20M393.87 454.70v1.20M390.17 580.10v-1.20M390.17 454.70v1.20M386.47 580.10v-2.40M386.47 454.70v2.40M382.76 580.10v-1.20M382.76 454.70v1.20M379.06 580.10v-1.20M379.06 454.70v1.20M375.35 580.10v-1.20M375.35 454.70v1.20M371.65 580.10v-2.40M371.65 454.70v2.40M367.95 580.10v-1.20M367.95 454.70v1.20M364.24 580.10v-1.20M364.24 454.70v1.20M360.54 580.10v-1.20M360.54 454.70v1.20M356.83 580.10v-2.40M356.83 454.70v2.40M353.13 580.10v-1.20M353.13 454.70v1.20M349.42 580.10v-1.20M349.42 454.70v1.20M345.72 580.10v-1.20M345.72 454.70v1.20M342.02 580.10v-2.40M342.02 454.70v2.40M338.31 580.10v-1.20M338.31 454.70v1.20M334.61 580.10v-1.20M334.61 454.70v1.20M330.90 580.10v-1.20M330.90 454.70v1.20M327.20 580.10v-2.40M327.20 454.70v2.40M323.50 580.10v-1.20M323.50 454.70v1.20M322.15 579.10h1.20M426.25 579.10h-1.20M322.15 576.82h1.20M426.25 576.82h-1.20M322.15 574.55h2.40M426.25 574.55h-2.40M322.15 572.27h1.20M426.25 572.27h-1.20M322.15 570.00h1.20M426.25 570.00h-1.20M322.15 567.72h1.20M426.25 567.72h-1.20M322.15 565.45h1.20M426.25 565.45h-1.20M322.15 563.17h1.20M426.25 563.17h-1.20M322.15 560.90h1.20M426.25 560.90h-1.20M322.15 558.62h1.20M426.25 558.62h-1.20M322.15 556.35h1.20M426.25 556.35h-1.20M322.15 554.08h1.20M426.25 554.08h-1.20M322.15 551.80h2.40M426.25 551.80h-2.40M322.15 549.52h1.20M426.25 549.52h-1.20M322.15 547.25h1.20M426.25 547.25h-1.20M322.15 544.98h1.20M426.25 544.98h-1.20M322.15 542.70h1.20M426.25 542.70h-1.20M322.15 540.42h1.20M426.25 540.42h-1.20M322.15 538.15h1.20M426.25 538.15h-1.20M322.15 535.88h1.20M426.25 535.88h-1.20M322.15 533.60h1.20M426.25 533.60h-1.20M322.15 531.32h1.20M426.25 531.32h-1.20M322.15 529.05h2.40M426.25 529.05h-2.40M322.15 526.77h1.20M426.25 526.77h-1.20M322.15 524.50h1.20M426.25 524.50h-1.20M322.15 522.22h1.20M426.25 522.22h-1.20M322.15 519.95h1.20M426.25 519.95h-1.20M322.15 517.67h1.20M426.25 517.67h-1.20M322.15 515.40h1.20M426.25 515.40h-1.20M322.15 513.12h1.20M426.25 513.12h-1.20M322.15 510.85h1.20M426.25 510.85h-1.20M322.15 508.57h1.20M426.25 508.57h-1.20M322.15 506.30h2.40M426.25 506.30h-2.40M322.15 504.02h1.20M426.25 504.02h-1.20M322.15 501.75h1.20M426.25 501.75h-1.20M322.15 499.47h1.20M426.25 499.47h-1.20M322.15 497.20h1.20M426.25 497.20h-1.20M322.15 494.92h1.20M426.25 494.92h-1.20M322.15 492.65h1.20M426.25 492.65h-1.20M322.15 490.38h1.20M426.25 490.38h-1.20M322.15 488.10h1.20M426.25 488.10h-1.20M322.15 485.82h1.20M426.25 485.82h-1.20M322.15 483.55h2.40M426.25 483.55h-2.40M322.15 481.27h1.20M426.25 481.27h-1.20M322.15 479.00h1.20M426.25 479.00h-1.20M322.15 476.72h1.20M426.25 476.72h-1.20M322.15 474.45h1.20M426.25 474.45h-1.20M322.15 472.17h1.20M426.25 472.17h-1.20M322.15 469.90h1.20M426.25 469.90h-1.20M322.15 467.62h1.20M426.25 467.62h-1.20M322.15 465.35h1.20M426.25 465.35h-1.20M322.15 463.07h1.20M426.25 463.07h-1.20M322.15 460.80h2.40M426.25 460.80h-2.40M322.15 458.52h1.20M426.25 458.52h-1.20M322.15 456.25h1.20M426.25 456.25h-1.20" stroke="#555" stroke-width="0.65" fill="none"/>
<g clip-path="url(#c15)">
<path d="M399.7 583.1L403.4 582.3L406.8 581.5L409.9 580.6L412.9 579.6L415.5 578.6L417.9 577.5L420.0 576.3L421.7 575.2L423.1 574.0L424.2 572.8L424.9 571.6L425.2 570.4L425.3 569.1L424.9 568.0L424.3 566.9L423.3 565.6L421.9 564.4L420.1 563.3L418.1 562.2L415.6 561.0L413.0 560.0L410.0 559.1L406.7 558.1L403.1 557.3L395.3 555.8L386.8 554.6L377.9 553.9L373.7 553.7L369.9 553.7L374.1 553.3L378.6 552.7L383.2 551.9L387.5 551.0L391.5 550.0L395.2 548.9L398.6 547.7L401.4 546.5L403.9 545.2L405.9 543.8L407.5 542.5L408.6 541.0L409.2 539.6L409.4 538.2L409.0 536.8L408.2 535.4L407.1 534.2L405.5 532.9L403.6 531.6L401.2 530.5L398.6 529.4L395.7 528.3L392.3 527.3L388.7 526.4L384.8 525.5L380.7 524.7L376.5 524.1L371.8 523.5L367.3 523.0L362.6 522.7L358.1 522.4L354.0 522.4L358.1 522.0L362.7 521.4L367.0 520.7L371.4 519.8L375.4 518.8L379.1 517.7L382.4 516.5L385.3 515.3L387.9 514.0L389.9 512.7L391.5 511.3L392.5 510.0L393.2 508.5L393.4 507.2L393.2 505.8L392.5 504.4L391.5 503.2L390.0 501.9L388.1 500.7L385.9 499.5L383.3 498.3L380.2 497.2L376.9 496.2L373.3 495.2L369.4 494.4L365.1 493.5L360.8 492.9L356.1 492.2L351.3 491.8L346.7 491.4L342.1 491.2L338.1 491.1L342.2 490.8L346.6 490.2L350.9 489.5L355.2 488.6L359.2 487.6L362.7 486.6L366.1 485.4L369.0 484.2L371.6 482.9L373.7 481.6L375.3 480.2L376.5 478.9L377.2 477.5L377.5 476.1L377.3 474.7L376.7 473.4L375.7 472.1L374.2 470.8L372.3 469.5L370.1 468.3L367.6 467.2L364.5 466.0L361.2 465.0L357.7 464.0L353.7 463.1L349.4 462.3L344.9 461.6L340.2 461.0L335.4 460.5L330.7 460.1L326.2 459.9L322.2 459.9L326.8 459.5L331.7 458.8L336.7 457.9L341.3 456.9L345.5 455.7L349.4 454.5L352.7 453.1L355.5 451.7" stroke="#585858" stroke-width="0.85" fill="none"/>
<circle cx="412.65" cy="579.67" r="0.85" fill="#222"/>
<circle cx="396.73" cy="548.41" r="0.85" fill="#222"/>
<circle cx="380.80" cy="517.15" r="0.85" fill="#222"/>
<circle cx="364.88" cy="485.89" r="0.85" fill="#222"/>
<circle cx="348.95" cy="454.63" r="0.85" fill="#222"/>
<path d="M390.13 502.01L385.10 503.60" stroke="#2e2e8e" stroke-width="0.6" fill="none"/>
<path d="M393.30 532.70H419.30M406.30 530.00V535.40M393.30 531.30v2.80M419.30 531.30v2.80M404.90 530.00h2.80M404.90 535.40h2.80" stroke="#c83838" stroke-width="1.20" fill="none"/>
<path d="M369.60 503.60H400.60M385.10 499.50V507.70M369.60 502.20v2.80M400.60 502.20v2.80M383.70 499.50h2.80M383.70 507.70h2.80" stroke="#2e2e8e" stroke-width="1.20" fill="none"/>
</g>
<rect x="322.15" y="454.70" width="104.10" height="125.40" stroke="#a0a0a0" stroke-width="0.80" fill="none"/>
<text x="416.10" y="587.65" font-size="5.70" text-anchor="middle">3.40</text>
<text x="401.28" y="587.65" font-size="5.70" text-anchor="middle">3.42</text>
<text x="386.47" y="587.65" font-size="5.70" text-anchor="middle">3.44</text>
<text x="371.65" y="587.65" font-size="5.70" text-anchor="middle">3.46</text>
<text x="356.83" y="587.65" font-size="5.70" text-anchor="middle">3.48</text>
<text x="342.02" y="587.65" font-size="5.70" text-anchor="middle">3.50</text>
<text x="327.20" y="587.65" font-size="5.70" text-anchor="middle">3.52</text>
<text x="320.55" y="576.60" font-size="5.70" text-anchor="end">4.3</text>
<text x="320.55" y="553.85" font-size="5.70" text-anchor="end">4.4</text>
<text x="320.55" y="531.10" font-size="5.70" text-anchor="end">4.5</text>
<text x="320.55" y="508.35" font-size="5.70" text-anchor="end">4.6</text>
<text x="320.55" y="485.60" font-size="5.70" text-anchor="end">4.7</text>
<text x="320.55" y="462.85" font-size="5.70" text-anchor="end">4.8</text>
<text x="374.15" y="593.90" font-size="6.0" text-anchor="middle">ΔRA (″)</text>
<text x="310.40" y="517.50" font-size="6.0" text-anchor="middle" textLength="20.5" lengthAdjust="spacingAndGlyphs" transform="rotate(-90 310.40 517.50)">ΔDec (″)</text>
<text x="308.30" y="593.90" font-size="6.0" textLength="40.5" lengthAdjust="spacingAndGlyphs">HD 155555 C #3</text>
<text x="436.85" y="456.30" font-size="3.60" fill="#6a6a6a">2012.0</text>
<text x="436.85" y="580.60" font-size="3.60" fill="#6a6a6a">2008.0</text>
<text x="437.85" y="517.20" font-size="3.60" fill="#2e2e8e" font-weight="bold">2010.3</text>
<text x="437.85" y="521.90" font-size="3.60" fill="#c83838" font-weight="bold">2009.3</text>
<path d="M426.25 501.25L429.25 501.25L434.25 516.25L436.25 516.00" stroke="#6262b4" stroke-width="0.65" fill="none"/>
<path d="M426.25 533.25L429.25 533.25L433.05 521.00L436.25 520.60" stroke="#dc6a6a" stroke-width="0.65" fill="none"/>
<clipPath id="c16"><rect x="472.55" y="454.70" width="104.10" height="125.40"/></clipPath>
<path d="M562.90 454.70V580.10M548.08 454.70V580.10M533.27 454.70V580.10M518.45 454.70V580.10M503.63 454.70V580.10M488.82 454.70V580.10M474.00 454.70V580.10M472.55 561.50H576.65M472.55 538.75H576.65M472.55 516.00H576.65M472.55 493.25H576.65M472.55 470.50H576.65" stroke="#e6e6e6" stroke-width="0.75" fill="none"/>
<path d="M574.01 580.10v-1.20M574.01 454.70v1.20M570.31 580.10v-1.20M570.31 454.70v1.20M566.60 580.10v-1.20M566.60 454.70v1.20M562.90 580.10v-2.40M562.90 454.70v2.40M559.20 580.10v-1.20M559.20 454.70v1.20M555.49 580.10v-1.20M555.49 454.70v1.20M551.79 580.10v-1.20M551.79 454.70v1.20M548.08 580.10v-2.40M548.08 454.70v2.40M544.38 580.10v-1.20M544.38 454.70v1.20M540.67 580.10v-1.20M540.67 454.70v1.20M536.97 580.10v-1.20M536.97 454.70v1.20M533.27 580.10v-2.40M533.27 454.70v2.40M529.56 580.10v-1.20M529.56 454.70v1.20M525.86 580.10v-1.20M525.86 454.70v1.20M522.15 580.10v-1.20M522.15 454.70v1.20M518.45 580.10v-2.40M518.45 454.70v2.40M514.75 580.10v-1.20M514.75 454.70v1.20M511.04 580.10v-1.20M511.04 454.70v1.20M507.34 580.10v-1.20M507.34 454.70v1.20M503.63 580.10v-2.40M503.63 454.70v2.40M499.93 580.10v-1.20M499.93 454.70v1.20M496.23 580.10v-1.20M496.23 454.70v1.20M492.52 580.10v-1.20M492.52 454.70v1.20M488.82 580.10v-2.40M488.82 454.70v2.40M485.11 580.10v-1.20M485.11 454.70v1.20M481.41 580.10v-1.20M481.41 454.70v1.20M477.70 580.10v-1.20M477.70 454.70v1.20M474.00 580.10v-2.40M474.00 454.70v2.40M472.55 579.70h1.20M576.65 579.70h-1.20M472.55 577.42h1.20M576.65 577.42h-1.20M472.55 575.15h1.20M576.65 575.15h-1.20M472.55 572.88h1.20M576.65 572.88h-1.20M472.55 570.60h1.20M576.65 570.60h-1.20M472.55 568.32h1.20M576.65 568.32h-1.20M472.55 566.05h1.20M576.65 566.05h-1.20M472.55 563.77h1.20M576.65 563.77h-1.20M472.55 561.50h2.40M576.65 561.50h-2.40M472.55 559.22h1.20M576.65 559.22h-1.20M472.55 556.95h1.20M576.65 556.95h-1.20M472.55 554.67h1.20M576.65 554.67h-1.20M472.55 552.40h1.20M576.65 552.40h-1.20M472.55 550.12h1.20M576.65 550.12h-1.20M472.55 547.85h1.20M576.65 547.85h-1.20M472.55 545.57h1.20M576.65 545.57h-1.20M472.55 543.30h1.20M576.65 543.30h-1.20M472.55 541.02h1.20M576.65 541.02h-1.20M472.55 538.75h2.40M576.65 538.75h-2.40M472.55 536.47h1.20M576.65 536.47h-1.20M472.55 534.20h1.20M576.65 534.20h-1.20M472.55 531.92h1.20M576.65 531.92h-1.20M472.55 529.65h1.20M576.65 529.65h-1.20M472.55 527.38h1.20M576.65 527.38h-1.20M472.55 525.10h1.20M576.65 525.10h-1.20M472.55 522.82h1.20M576.65 522.82h-1.20M472.55 520.55h1.20M576.65 520.55h-1.20M472.55 518.27h1.20M576.65 518.27h-1.20M472.55 516.00h2.40M576.65 516.00h-2.40M472.55 513.72h1.20M576.65 513.72h-1.20M472.55 511.45h1.20M576.65 511.45h-1.20M472.55 509.17h1.20M576.65 509.17h-1.20M472.55 506.90h1.20M576.65 506.90h-1.20M472.55 504.62h1.20M576.65 504.62h-1.20M472.55 502.35h1.20M576.65 502.35h-1.20M472.55 500.08h1.20M576.65 500.08h-1.20M472.55 497.80h1.20M576.65 497.80h-1.20M472.55 495.53h1.20M576.65 495.53h-1.20M472.55 493.25h2.40M576.65 493.25h-2.40M472.55 490.98h1.20M576.65 490.98h-1.20M472.55 488.70h1.20M576.65 488.70h-1.20M472.55 486.43h1.20M576.65 486.43h-1.20M472.55 484.15h1.20M576.65 484.15h-1.20M472.55 481.88h1.20M576.65 481.88h-1.20M472.55 479.60h1.20M576.65 479.60h-1.20M472.55 477.33h1.20M576.65 477.33h-1.20M472.55 475.05h1.20M576.65 475.05h-1.20M472.55 472.78h1.20M576.65 472.78h-1.20M472.55 470.50h2.40M576.65 470.50h-2.40M472.55 468.23h1.20M576.65 468.23h-1.20M472.55 465.95h1.20M576.65 465.95h-1.20M472.55 463.68h1.20M576.65 463.68h-1.20M472.55 461.40h1.20M576.65 461.40h-1.20M472.55 459.13h1.20M576.65 459.13h-1.20M472.55 456.85h1.20M576.65 456.85h-1.20" stroke="#555" stroke-width="0.65" fill="none"/>
<g clip-path="url(#c16)">
<path d="M552.2 583.1L558.8 581.4L561.9 580.5L564.6 579.5L567.1 578.5L569.2 577.5L571.1 576.4L572.7 575.2L574.0 574.0L574.9 572.9L575.5 571.6L575.8 570.5L575.7 569.2L575.3 568.1L574.6 566.9L573.4 565.7L572.0 564.5L570.2 563.4L568.0 562.3L565.7 561.3L563.0 560.3L560.0 559.3L553.3 557.6L545.6 556.1L537.0 555.0L528.3 554.3L524.1 554.1L520.4 554.1L524.6 553.7L529.1 553.1L533.7 552.3L538.0 551.4L542.0 550.4L545.7 549.3L549.1 548.1L552.1 546.8L554.6 545.5L556.5 544.1L558.1 542.8L559.2 541.3L559.8 539.9L559.9 539.1L559.8 538.4L559.5 537.0L558.6 535.6L557.4 534.4L555.8 533.1L553.9 531.9L551.5 530.8L548.9 529.7L546.0 528.6L542.6 527.6L539.0 526.7L535.0 525.8L531.0 525.1L526.7 524.4L522.1 523.8L517.5 523.4L512.9 523.0L508.4 522.8L504.5 522.8L508.6 522.4L513.2 521.8L517.5 521.1L521.9 520.2L525.9 519.2L529.6 518.1L532.9 516.9L535.8 515.7L538.4 514.4L540.4 513.1L542.0 511.7L543.0 510.4L543.7 508.9L543.9 507.6L543.7 506.2L542.9 504.7L541.9 503.5L540.4 502.2L538.5 501.0L536.2 499.8L533.6 498.7L530.7 497.6L527.4 496.6L523.8 495.6L519.9 494.8L515.6 493.9L511.3 493.3L506.6 492.6L501.8 492.2L497.2 491.8L492.6 491.6L488.6 491.5L492.7 491.2L497.1 490.6L501.4 489.9L505.7 489.0L509.7 488.0L513.5 486.9L516.8 485.8L519.7 484.5L522.3 483.2L524.3 481.9L525.9 480.5L527.0 479.2L527.8 477.8L528.0 476.4L527.8 475.0L527.2 473.7L526.2 472.5L524.7 471.2L522.8 469.9L520.6 468.7L518.1 467.6L515.0 466.4L511.7 465.4L508.2 464.4L504.2 463.5L499.9 462.7L495.4 462.0L490.7 461.4L485.9 460.9L481.2 460.5L476.7 460.3L472.7 460.3L477.3 459.9L482.4 459.2L487.4 458.3L492.2 457.2L496.7 456.0L500.5 454.7L503.8 453.3L506.7 451.8" stroke="#585858" stroke-width="0.85" fill="none"/>
<circle cx="563.15" cy="580.07" r="0.85" fill="#222"/>
<circle cx="547.23" cy="548.81" r="0.85" fill="#222"/>
<circle cx="531.30" cy="517.55" r="0.85" fill="#222"/>
<circle cx="515.38" cy="486.29" r="0.85" fill="#222"/>
<circle cx="499.45" cy="455.03" r="0.85" fill="#222"/>
<path d="M540.63 502.41L544.40 497.00" stroke="#2e2e8e" stroke-width="0.6" fill="none"/>
<path d="M547.00 532.90H565.80M556.40 528.00V537.80M547.00 531.50v2.80M565.80 531.50v2.80M555.00 528.00h2.80M555.00 537.80h2.80" stroke="#c83838" stroke-width="1.20" fill="none"/>
<path d="M535.00 497.00H553.80M544.40 492.40V501.60M535.00 495.60v2.80M553.80 495.60v2.80M543.00 492.40h2.80M543.00 501.60h2.80" stroke="#2e2e8e" stroke-width="1.20" fill="none"/>
</g>
<rect x="472.55" y="454.70" width="104.10" height="125.40" stroke="#a0a0a0" stroke-width="0.80" fill="none"/>
<text x="562.90" y="587.65" font-size="5.70" text-anchor="middle"><tspan font-weight="bold">−</tspan>5.90</text>
<text x="548.08" y="587.65" font-size="5.70" text-anchor="middle"><tspan font-weight="bold">−</tspan>5.88</text>
<text x="533.27" y="587.65" font-size="5.70" text-anchor="middle"><tspan font-weight="bold">−</tspan>5.86</text>
<text x="518.45" y="587.65" font-size="5.70" text-anchor="middle"><tspan font-weight="bold">−</tspan>5.84</text>
<text x="503.63" y="587.65" font-size="5.70" text-anchor="middle"><tspan font-weight="bold">−</tspan>5.82</text>
<text x="488.82" y="587.65" font-size="5.70" text-anchor="middle"><tspan font-weight="bold">−</tspan>5.80</text>
<text x="474.00" y="587.65" font-size="5.70" text-anchor="middle"><tspan font-weight="bold">−</tspan>5.78</text>
<text x="470.95" y="563.55" font-size="5.70" text-anchor="end">2.3</text>
<text x="470.95" y="540.80" font-size="5.70" text-anchor="end">2.4</text>
<text x="470.95" y="518.05" font-size="5.70" text-anchor="end">2.5</text>
<text x="470.95" y="495.30" font-size="5.70" text-anchor="end">2.6</text>
<text x="470.95" y="472.55" font-size="5.70" text-anchor="end">2.7</text>
<text x="524.55" y="593.90" font-size="6.0" text-anchor="middle">ΔRA (″)</text>
<text x="460.80" y="517.50" font-size="6.0" text-anchor="middle" textLength="20.5" lengthAdjust="spacingAndGlyphs" transform="rotate(-90 460.80 517.50)">ΔDec (″)</text>
<text x="458.70" y="593.90" font-size="6.0" textLength="40.5" lengthAdjust="spacingAndGlyphs">HD 155555 C #4</text>
<text x="587.25" y="456.30" font-size="3.60" fill="#6a6a6a">2012.0</text>
<text x="587.25" y="580.60" font-size="3.60" fill="#6a6a6a">2008.0</text>
<text x="588.25" y="517.20" font-size="3.60" fill="#2e2e8e" font-weight="bold">2010.3</text>
<text x="588.25" y="521.90" font-size="3.60" fill="#c83838" font-weight="bold">2009.3</text>
<path d="M576.65 501.25L579.65 501.25L584.65 516.25L586.65 516.00" stroke="#6262b4" stroke-width="0.65" fill="none"/>
<path d="M576.65 533.25L579.65 533.25L583.45 521.00L586.65 520.60" stroke="#dc6a6a" stroke-width="0.65" fill="none"/>
</svg></body></html>
